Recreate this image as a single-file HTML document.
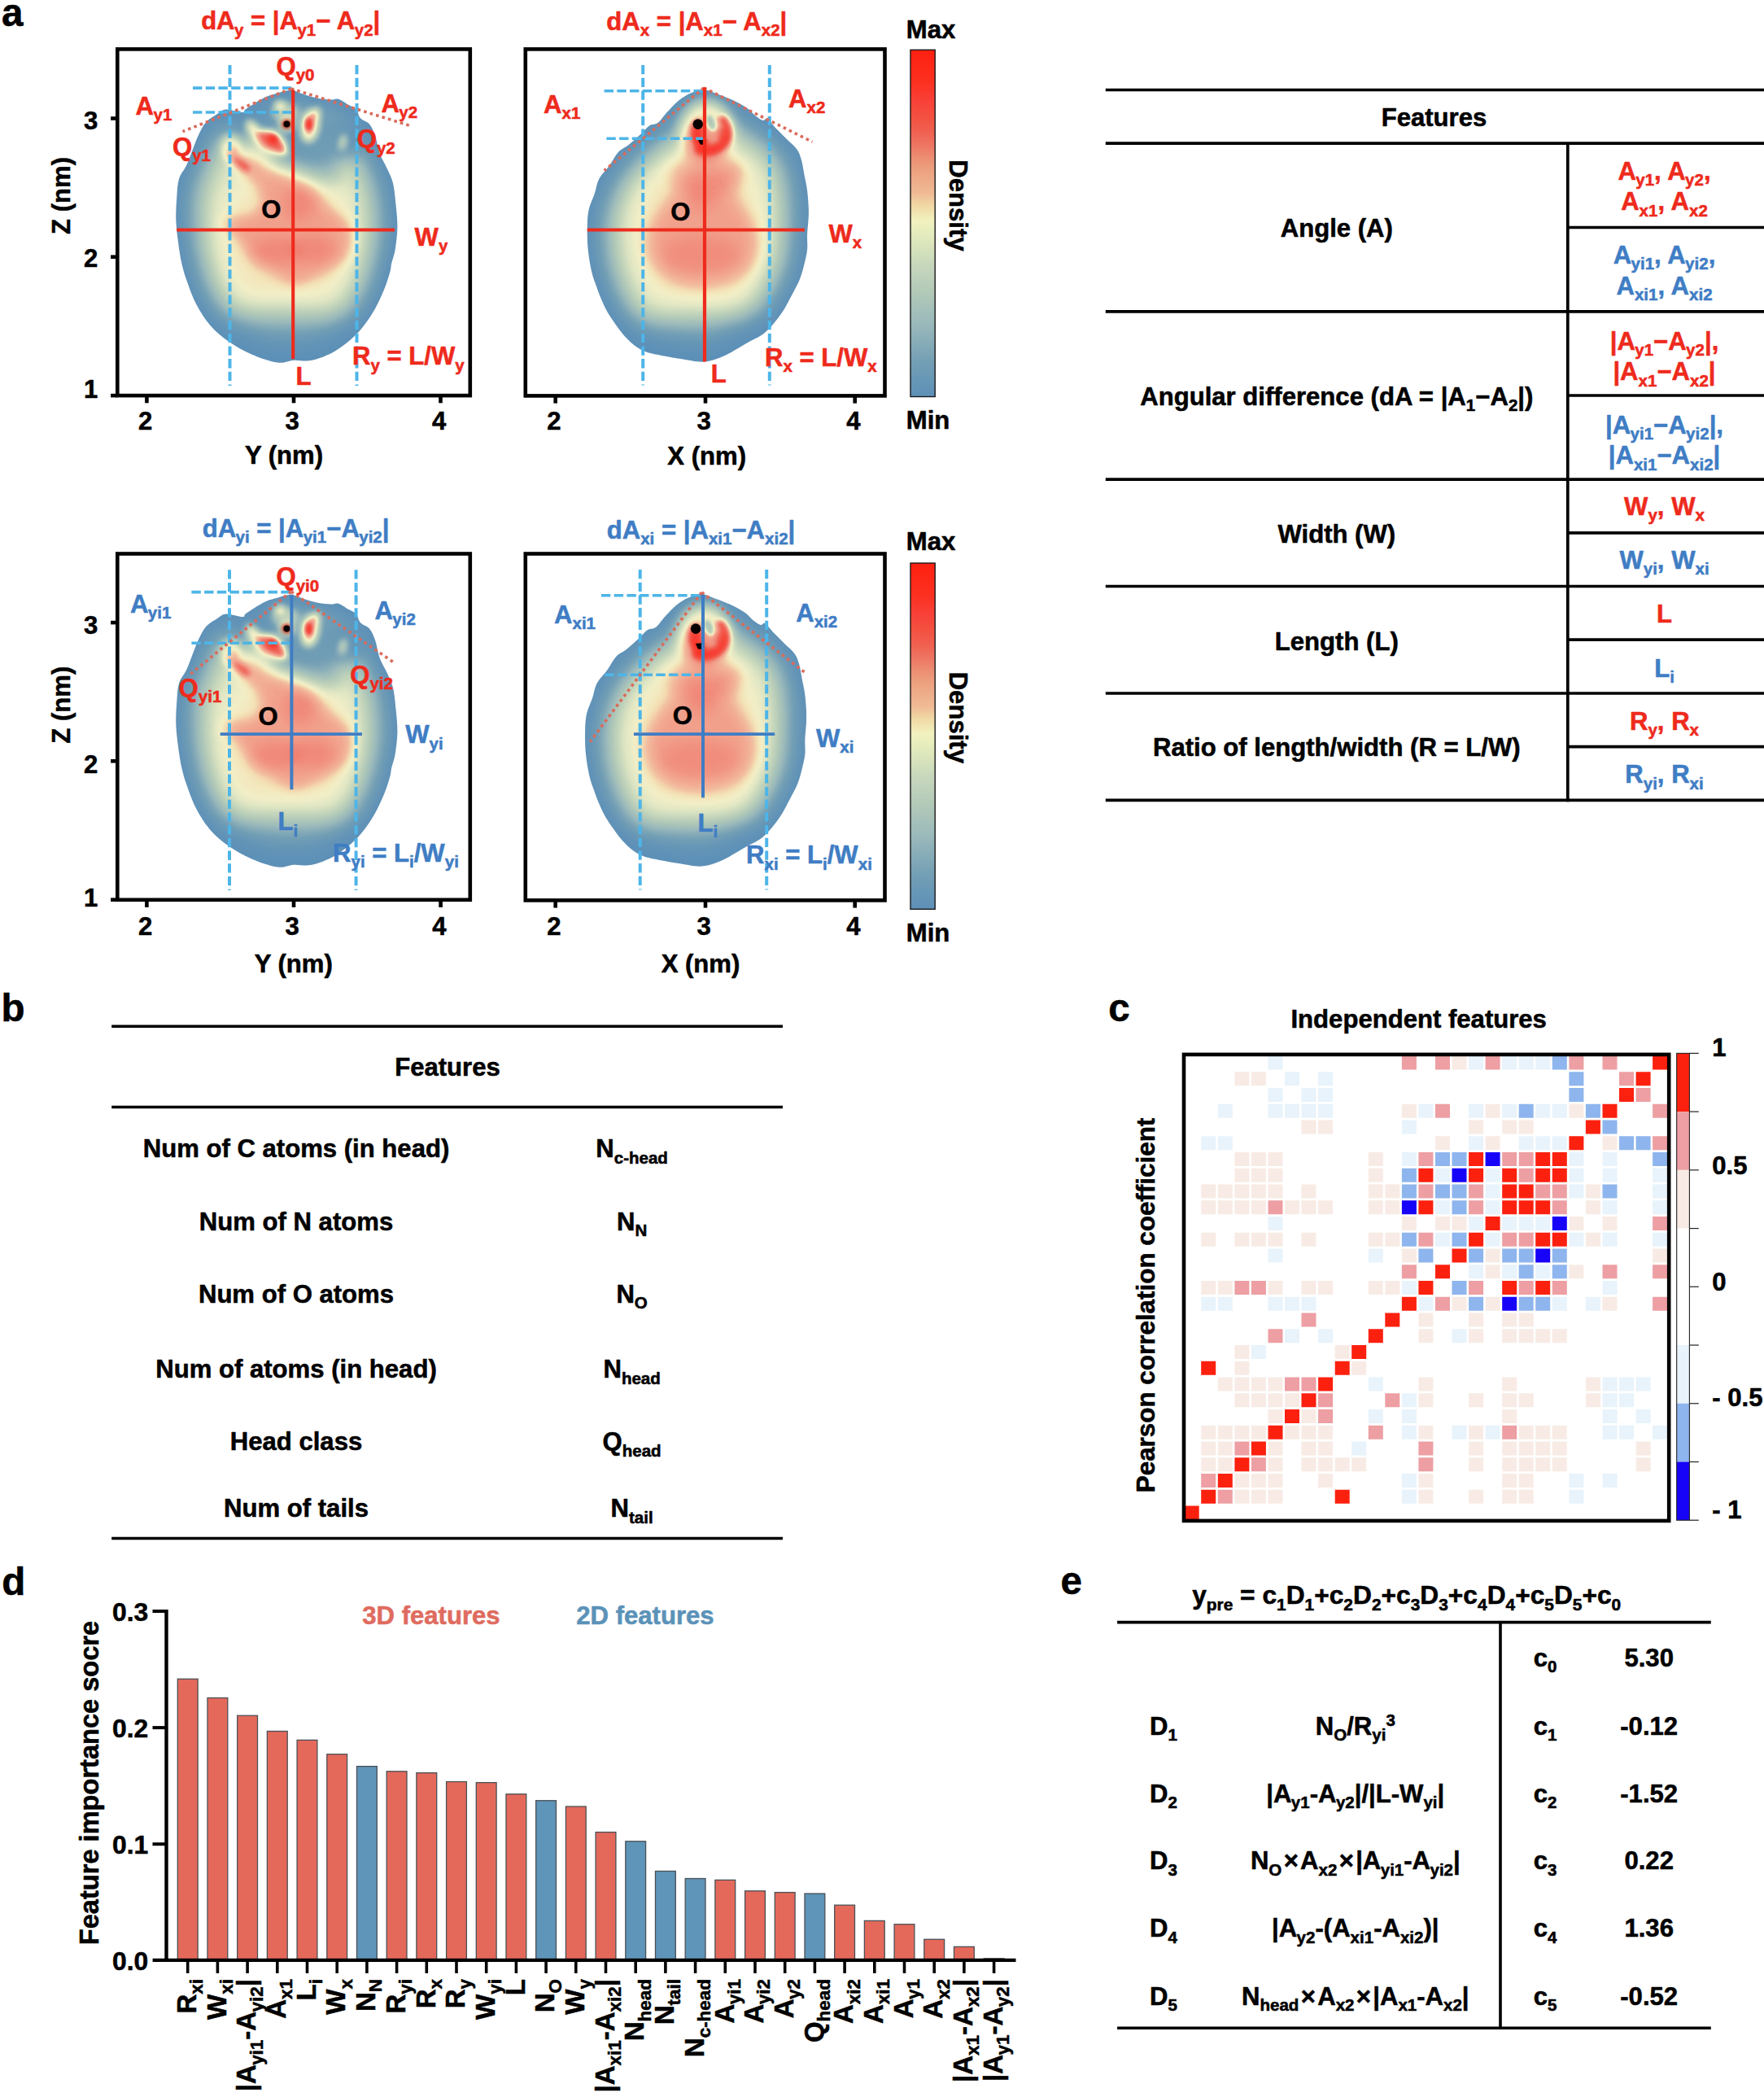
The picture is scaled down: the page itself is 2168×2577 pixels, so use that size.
<!DOCTYPE html>
<html><head><meta charset="utf-8"><title>Figure</title>
<style>html,body{margin:0;padding:0;background:#fff}svg{display:block}text{font-family:"Liberation Sans",sans-serif;font-weight:bold;stroke-width:.55px;stroke-linejoin:round}</style>
</head><body>
<svg width="2168" height="2577" viewBox="0 0 2168 2577">
<rect x="0" y="0" width="2168" height="2577" fill="#ffffff"/>
<defs>
<filter id="cmap" x="0" y="0" width="100%" height="100%" filterUnits="userSpaceOnUse" color-interpolation-filters="sRGB">
<feComponentTransfer>
<feFuncR type="table" tableValues="0.365 0.386 0.408 0.429 0.451 0.486 0.520 0.555 0.590 0.621 0.646 0.670 0.695 0.722 0.748 0.775 0.806 0.839 0.872 0.904 0.936 0.943 0.941 0.941 0.938 0.932 0.927 0.925 0.927 0.933 0.938 0.945 0.954 0.962 0.971 0.979 0.986 0.990 0.992 0.994 0.996"/>
<feFuncG type="table" tableValues="0.565 0.579 0.594 0.609 0.624 0.646 0.669 0.692 0.715 0.736 0.753 0.770 0.788 0.805 0.823 0.841 0.862 0.885 0.908 0.926 0.944 0.907 0.849 0.767 0.711 0.674 0.636 0.586 0.528 0.463 0.407 0.361 0.326 0.291 0.257 0.226 0.197 0.176 0.159 0.142 0.125"/>
<feFuncB type="table" tableValues="0.722 0.719 0.716 0.713 0.710 0.715 0.720 0.725 0.730 0.732 0.728 0.725 0.722 0.727 0.731 0.736 0.737 0.737 0.737 0.741 0.744 0.703 0.645 0.604 0.568 0.535 0.502 0.465 0.427 0.389 0.341 0.298 0.264 0.240 0.222 0.182 0.138 0.113 0.096 0.080 0.063"/>
</feComponentTransfer></filter>
<filter id="b2" x="-50%" y="-50%" width="200%" height="200%" color-interpolation-filters="sRGB"><feGaussianBlur stdDeviation="2"/></filter>
<filter id="b3" x="-50%" y="-50%" width="200%" height="200%" color-interpolation-filters="sRGB"><feGaussianBlur stdDeviation="3"/></filter>
<filter id="b4" x="-50%" y="-50%" width="200%" height="200%" color-interpolation-filters="sRGB"><feGaussianBlur stdDeviation="4"/></filter>
<filter id="b6" x="-50%" y="-50%" width="200%" height="200%" color-interpolation-filters="sRGB"><feGaussianBlur stdDeviation="6"/></filter>
<filter id="b8" x="-50%" y="-50%" width="200%" height="200%" color-interpolation-filters="sRGB"><feGaussianBlur stdDeviation="8"/></filter>
<filter id="b10" x="-50%" y="-50%" width="200%" height="200%" color-interpolation-filters="sRGB"><feGaussianBlur stdDeviation="10"/></filter>
<filter id="b14" x="-50%" y="-50%" width="200%" height="200%" color-interpolation-filters="sRGB"><feGaussianBlur stdDeviation="14"/></filter>
<filter id="b16" x="-50%" y="-50%" width="200%" height="200%" color-interpolation-filters="sRGB"><feGaussianBlur stdDeviation="16"/></filter>
<filter id="b18" x="-50%" y="-50%" width="200%" height="200%" color-interpolation-filters="sRGB"><feGaussianBlur stdDeviation="18"/></filter>
<filter id="b24" x="-50%" y="-50%" width="200%" height="200%" color-interpolation-filters="sRGB"><feGaussianBlur stdDeviation="24"/></filter>
<path id="blob1" d="M357.8 110.8C363.2 111.1 368.7 114.6 374.1 116.3C379.6 118.0 385.1 119.8 390.5 120.8C395.9 121.8 402.6 122.4 406.8 122.6C411.0 122.8 412.3 120.6 415.9 121.7C419.5 122.8 425.0 126.9 428.6 129.0C432.2 131.1 435.2 131.7 437.6 134.4C440.0 137.1 440.4 142.3 443.1 145.3C445.8 148.3 451.0 149.0 454.0 152.6C457.0 156.2 459.1 161.1 461.2 167.1C463.3 173.1 464.3 182.2 466.7 188.8C469.1 195.5 473.0 200.9 475.7 207.0C478.4 213.1 481.2 217.5 483.0 225.1C484.8 232.7 485.7 243.2 486.6 252.3C487.5 261.4 488.5 270.4 488.4 279.5C488.2 288.6 486.9 299.4 485.7 306.8C484.5 314.2 482.2 319.2 481.2 323.7C480.1 328.2 481.0 328.3 479.4 334.0C477.8 339.7 475.0 349.0 471.3 357.7C467.6 366.4 462.8 377.0 457.1 386.0C451.4 395.0 444.9 404.0 437.3 411.6C429.8 419.2 420.8 426.2 411.8 431.4C402.8 436.6 391.9 440.8 383.4 442.7C374.9 444.6 367.9 442.2 360.8 442.7C353.7 443.2 349.5 446.8 341.0 445.6C332.5 444.4 319.7 440.0 309.8 435.7C299.9 431.4 289.9 425.9 281.4 420.0C272.9 414.1 265.3 407.8 258.7 400.2C252.1 392.6 246.3 383.3 241.7 374.7C237.0 366.1 233.8 356.8 230.8 348.5C227.8 340.2 225.6 333.4 223.6 324.9C221.6 316.4 220.2 306.8 219.0 297.7C217.8 288.6 216.6 279.6 216.3 270.5C216.0 261.4 216.6 251.8 217.2 243.3C217.8 234.8 218.0 226.3 220.0 219.7C222.0 213.0 226.3 209.2 229.0 203.4C231.7 197.7 233.9 191.2 236.3 185.2C238.7 179.1 240.8 172.8 243.5 167.1C246.2 161.3 248.7 155.2 252.6 150.7C256.5 146.2 262.9 142.6 267.1 139.9C271.3 137.2 272.9 134.7 278.0 134.4C283.1 134.1 294.1 138.0 298.0 138.0C301.9 138.0 299.2 136.2 301.6 134.4C304.0 132.6 308.3 129.8 312.5 127.2C316.7 124.6 322.2 121.1 327.0 119.0C331.8 116.9 336.4 115.9 341.5 114.5C346.6 113.1 352.4 110.5 357.8 110.8Z"/>
<path id="blob2" d="M865.1 109.9C870.5 110.1 875.7 113.3 881.4 115.4C887.1 117.5 893.5 119.7 899.5 122.6C905.5 125.5 912.9 129.3 917.7 132.6C922.6 135.9 925.3 140.0 928.6 142.6C931.9 145.2 935.2 147.4 937.6 148.0C940.0 148.6 940.4 144.5 943.1 146.2C945.8 147.9 950.1 153.9 954.0 158.0C957.9 162.1 962.5 166.5 966.7 170.7C970.9 174.9 976.4 179.2 979.4 183.4C982.4 187.6 983.3 191.0 984.8 196.1C986.3 201.2 987.2 207.8 988.4 214.2C989.6 220.5 991.2 226.3 992.1 234.2C993.0 242.1 993.9 252.3 993.9 261.4C993.9 270.5 992.4 281.0 992.1 288.6C991.8 296.2 992.7 300.8 992.1 306.8C991.5 312.9 989.9 318.9 988.4 324.9C986.9 330.9 985.4 336.9 983.0 343.0C980.6 349.1 977.6 354.2 973.9 361.2C970.1 368.2 966.1 377.1 960.5 385.0C954.9 392.9 947.5 402.6 940.1 408.8C932.7 415.0 924.8 417.6 916.3 422.4C907.8 427.2 897.6 434.1 889.1 437.8C880.6 441.5 873.8 444.0 865.3 444.6C856.8 445.2 846.0 442.3 838.1 441.2C830.2 440.1 825.6 439.5 817.7 437.8C809.8 436.1 798.5 434.7 790.5 431.0C782.5 427.3 776.8 422.7 770.0 415.6C763.2 408.5 754.7 396.0 749.7 388.4C744.7 380.8 742.8 376.2 740.0 370.0C737.2 363.8 734.8 357.0 732.7 351.0C730.6 345.0 728.9 341.4 727.2 334.0C725.5 326.6 723.6 315.9 722.7 306.8C721.8 297.7 721.6 287.7 721.8 279.5C721.9 271.3 722.1 264.8 723.6 257.8C725.1 250.9 728.7 244.2 730.8 237.8C732.9 231.5 733.3 225.4 736.3 219.7C739.3 214.0 745.1 208.8 749.0 203.4C752.9 198.0 756.0 191.2 759.9 187.0C763.8 182.8 768.1 181.6 772.6 178.0C777.1 174.4 782.9 169.2 787.1 165.3C791.3 161.4 794.4 156.8 798.0 154.4C801.6 152.0 805.2 153.4 808.8 150.7C812.4 148.0 815.5 142.5 819.7 138.0C823.9 133.5 829.4 127.4 834.2 123.5C839.1 119.6 843.6 116.8 848.8 114.5C853.9 112.2 859.7 109.8 865.1 109.9Z"/>
<clipPath id="clip1"><use href="#blob1"/></clipPath>
<clipPath id="clip2"><use href="#blob2"/></clipPath>
<linearGradient id="cbar" x1="0" y1="0" x2="0" y2="1"><stop offset="0.000" stop-color="rgb(254,32,16)"/><stop offset="0.093" stop-color="rgb(252,48,32)"/><stop offset="0.146" stop-color="rgb(248,64,56)"/><stop offset="0.191" stop-color="rgb(244,80,64)"/><stop offset="0.236" stop-color="rgb(240,96,80)"/><stop offset="0.272" stop-color="rgb(238,116,98)"/><stop offset="0.308" stop-color="rgb(236,140,112)"/><stop offset="0.344" stop-color="rgb(236,160,126)"/><stop offset="0.415" stop-color="rgb(240,187,150)"/><stop offset="0.449" stop-color="rgb(240,216,164)"/><stop offset="0.493" stop-color="rgb(241,242,190)"/><stop offset="0.548" stop-color="rgb(223,232,188)"/><stop offset="0.616" stop-color="rgb(200,216,188)"/><stop offset="0.705" stop-color="rgb(176,200,184)"/><stop offset="0.784" stop-color="rgb(156,186,187)"/><stop offset="0.900" stop-color="rgb(115,159,181)"/><stop offset="1.000" stop-color="rgb(93,144,184)"/></linearGradient>
</defs>
<defs><filter id="cmapA" x="195" y="90" width="320" height="380" filterUnits="userSpaceOnUse" color-interpolation-filters="sRGB">
<feComponentTransfer>
<feFuncR type="table" tableValues="0.365 0.386 0.408 0.429 0.451 0.486 0.520 0.555 0.590 0.621 0.646 0.670 0.695 0.722 0.748 0.775 0.808 0.846 0.883 0.916 0.948 0.955 0.953 0.953 0.952 0.951 0.949 0.947 0.944 0.942 0.944 0.948 0.955 0.962 0.971 0.979 0.986 0.990 0.992 0.994 0.996"/>
<feFuncG type="table" tableValues="0.565 0.579 0.594 0.609 0.624 0.646 0.669 0.692 0.715 0.736 0.753 0.770 0.788 0.805 0.823 0.841 0.861 0.883 0.904 0.921 0.937 0.912 0.872 0.788 0.726 0.682 0.638 0.588 0.534 0.474 0.419 0.370 0.329 0.291 0.257 0.226 0.197 0.176 0.159 0.142 0.125"/>
<feFuncB type="table" tableValues="0.722 0.719 0.716 0.713 0.710 0.715 0.720 0.725 0.730 0.732 0.728 0.725 0.722 0.727 0.731 0.736 0.745 0.756 0.768 0.775 0.782 0.749 0.700 0.654 0.617 0.587 0.556 0.518 0.472 0.415 0.365 0.316 0.268 0.240 0.222 0.182 0.138 0.113 0.096 0.080 0.063"/>
</feComponentTransfer></filter></defs>
<defs><filter id="cmapB" x="700" y="90" width="320" height="380" filterUnits="userSpaceOnUse" color-interpolation-filters="sRGB">
<feComponentTransfer>
<feFuncR type="table" tableValues="0.365 0.386 0.408 0.429 0.451 0.486 0.520 0.555 0.590 0.621 0.646 0.670 0.695 0.722 0.748 0.775 0.808 0.846 0.883 0.916 0.948 0.955 0.953 0.953 0.952 0.951 0.949 0.947 0.944 0.942 0.944 0.948 0.955 0.962 0.971 0.979 0.986 0.990 0.992 0.994 0.996"/>
<feFuncG type="table" tableValues="0.565 0.579 0.594 0.609 0.624 0.646 0.669 0.692 0.715 0.736 0.753 0.770 0.788 0.805 0.823 0.841 0.861 0.883 0.904 0.921 0.937 0.912 0.872 0.788 0.726 0.682 0.638 0.588 0.534 0.474 0.419 0.370 0.329 0.291 0.257 0.226 0.197 0.176 0.159 0.142 0.125"/>
<feFuncB type="table" tableValues="0.722 0.719 0.716 0.713 0.710 0.715 0.720 0.725 0.730 0.732 0.728 0.725 0.722 0.727 0.731 0.736 0.745 0.756 0.768 0.775 0.782 0.749 0.700 0.654 0.617 0.587 0.556 0.518 0.472 0.415 0.365 0.316 0.268 0.240 0.222 0.182 0.138 0.113 0.096 0.080 0.063"/>
</feComponentTransfer></filter></defs>
<g transform="translate(0 0)">
<g clip-path="url(#clip1)"><g filter="url(#cmapA)">
<rect x="200" y="95" width="310" height="365" fill="#000"/>
<g filter="url(#b16)"><use href="#blob1" fill="#fff" fill-opacity="0.45"/><use href="#blob1" fill="none" stroke="#000" stroke-width="52"/></g>
<g filter="url(#b18)"><ellipse cx="352" cy="295" rx="82" ry="92" fill="#fff" fill-opacity="0.16"/></g>
<g filter="url(#b18)"><ellipse cx="352" cy="455" rx="135" ry="68" fill="#000" fill-opacity="0.75"/></g>
<g filter="url(#b10)" fill="#000"><ellipse cx="395" cy="172" rx="60" ry="30" fill-opacity="0.8"/><ellipse cx="322" cy="150" rx="42" ry="20" fill-opacity="0.75"/><ellipse cx="382" cy="203" rx="42" ry="13" fill-opacity="0.55" transform="rotate(22 382 203)"/><ellipse cx="345" cy="195" rx="14" ry="10" fill-opacity="0.45"/></g>
<g filter="url(#b4)" fill="#fff"><path d="M304 146 L312 150 L322 160 L338 160 L350 172 L354 190 L340 190 L322 182 L310 170 L302 156 Z" fill-opacity="0.5"/><ellipse cx="381" cy="155" rx="11" ry="20" fill-opacity="0.5" transform="rotate(8 381 155)"/><ellipse cx="388" cy="140" rx="5" ry="9" fill-opacity="0.4" transform="rotate(20 388 140)"/><ellipse cx="344" cy="129" rx="7" ry="5" fill-opacity="0.5"/><ellipse cx="350" cy="138" rx="16" ry="11" fill-opacity="0.25"/><ellipse cx="421.5" cy="174.5" rx="3.5" ry="10" fill-opacity="0.45" transform="rotate(12 421.5 174.5)"/><ellipse cx="352.4" cy="152.6" rx="9" ry="9" fill-opacity="0.45"/><ellipse cx="283" cy="182" rx="12" ry="16" fill-opacity="0.3"/></g>
<g filter="url(#b8)"><path d="M285.3 187.0L301.6 188.8L317.9 196.1L334.2 205.2L348.8 212.4L357.8 217.9L374.1 223.3L385.0 230.6L395.9 243.3L403.2 254.1L414.1 261.4L426.8 270.5L434.0 283.2L434.0 297.7L430.4 312.2L423.1 321.3L408.6 330.3L395.9 337.6L381.4 341.2L372.3 346.7L363.3 348.5L354.2 346.7L345.1 341.2L334.2 334.0L323.4 330.3L312.5 323.1L303.4 312.2L296.1 297.7L287.1 286.8L276.2 279.5L270.7 274.1L276.2 268.7L290.7 266.8L308.8 265.0L319.7 257.8L323.4 246.9L319.7 236.0L312.5 225.1L301.6 214.2L290.7 203.4L285.3 194.3Z" fill="#fff" fill-opacity="0.26"/></g>
<g filter="url(#b8)" fill="#fff" fill-opacity="0.12"><ellipse cx="300" cy="205" rx="22" ry="9" transform="rotate(38 300 205)"/><ellipse cx="340" cy="308" rx="30" ry="18"/><ellipse cx="385" cy="306" rx="30" ry="18"/><ellipse cx="368" cy="250" rx="20" ry="22"/></g>
<g filter="url(#b3)" fill="#fff"><path d="M316 163 L328 161 L340 166 L349 178 L352 189 L342 187 L328 179 L320 171 Z" fill-opacity="0.42"/><ellipse cx="336" cy="170.5" rx="6" ry="4.5" fill-opacity="0.75" transform="rotate(40 336 170.5)"/><ellipse cx="379.6" cy="153" rx="4.5" ry="9" fill-opacity="0.85"/><ellipse cx="297" cy="202" rx="13" ry="5.5" fill-opacity="0.42" transform="rotate(38 297 202)"/></g>
</g></g>
<circle cx="352.4" cy="152.6" r="6" fill="#c0281c" filter="url(#b2)"/>
<circle cx="352.4" cy="152.6" r="4" fill="#0a0000"/>
</g>
<line x1="282.50" y1="80.00" x2="282.50" y2="474.00" stroke="#4db5e8" stroke-width="4" stroke-dasharray="11.3 4.4"/>
<line x1="438.50" y1="80.00" x2="438.50" y2="474.00" stroke="#4db5e8" stroke-width="4" stroke-dasharray="11.3 4.4"/>
<line x1="237.00" y1="108.10" x2="358.00" y2="108.10" stroke="#4db5e8" stroke-width="3.6" stroke-dasharray="11.4 4.3"/>
<line x1="237.00" y1="138.00" x2="358.00" y2="138.00" stroke="#4db5e8" stroke-width="3.6" stroke-dasharray="11.4 4.3"/>
<line x1="357.80" y1="109.00" x2="224.50" y2="161.60" stroke="#d96b5b" stroke-width="3.6" stroke-dasharray="3.6 4.2"/>
<line x1="357.80" y1="109.00" x2="506.60" y2="155.30" stroke="#d96b5b" stroke-width="3.6" stroke-dasharray="3.6 4.2"/>
<line x1="360.20" y1="110.50" x2="360.20" y2="441.30" stroke="#ee2a1c" stroke-width="4.1" />
<line x1="217.20" y1="282.50" x2="484.90" y2="282.50" stroke="#ee2a1c" stroke-width="4.2" />
<line x1="180.40" y1="486.10" x2="180.40" y2="495.30" stroke="#000" stroke-width="4.6" />
<line x1="361.00" y1="486.10" x2="361.00" y2="495.30" stroke="#000" stroke-width="4.6" />
<line x1="541.50" y1="486.10" x2="541.50" y2="495.30" stroke="#000" stroke-width="4.6" />
<line x1="136.10" y1="145.50" x2="144.30" y2="145.50" stroke="#000" stroke-width="4.6" />
<line x1="136.10" y1="315.70" x2="144.30" y2="315.70" stroke="#000" stroke-width="4.6" />
<line x1="136.10" y1="486.10" x2="144.30" y2="486.10" stroke="#000" stroke-width="4.6" />
<rect x="144.30" y="60.40" width="433.50" height="425.70" fill="none" stroke="#000" stroke-width="4.6" />
<text x="178.60" y="527.80" font-size="31.10" text-anchor="middle" fill="#000" stroke="#000" >2</text>
<text x="359.20" y="527.80" font-size="31.10" text-anchor="middle" fill="#000" stroke="#000" >3</text>
<text x="539.70" y="527.80" font-size="31.10" text-anchor="middle" fill="#000" stroke="#000" >4</text>
<text x="120.30" y="158.70" font-size="31.10" text-anchor="end" fill="#000" stroke="#000" >3</text>
<text x="120.30" y="327.80" font-size="31.10" text-anchor="end" fill="#000" stroke="#000" >2</text>
<text x="120.30" y="489.00" font-size="31.10" text-anchor="end" fill="#000" stroke="#000" >1</text>
<text x="349.00" y="570.30" font-size="31.10" text-anchor="middle" fill="#000" stroke="#000" >Y (nm)</text>
<text x="0" y="0" transform="translate(86.20 240.50) rotate(-90)" font-size="31.10" text-anchor="middle" fill="#000" stroke="#000" >Z (nm)</text>
<text x="357.20" y="36.30" font-size="31.10" text-anchor="middle" fill="#ee2a1c" stroke="#ee2a1c" >dA<tspan font-size="20.53" dy="7.31" dx="-0.6">y</tspan><tspan dy="-7.31"> = |A</tspan><tspan font-size="20.53" dy="7.31" dx="-0.6">y1</tspan><tspan dy="-7.31">− A</tspan><tspan font-size="20.53" dy="7.31" dx="-0.6">y2</tspan><tspan dy="-7.31">|</tspan></text>
<text x="339.50" y="92.00" font-size="31.10" text-anchor="start" fill="#ee2a1c" stroke="#ee2a1c" >Q<tspan font-size="20.53" dy="7.31">y0</tspan></text>
<text x="166.60" y="140.90" font-size="31.10" text-anchor="start" fill="#ee2a1c" stroke="#ee2a1c" >A<tspan font-size="20.53" dy="7.31" dx="-0.6">y1</tspan></text>
<text x="468.50" y="137.50" font-size="31.10" text-anchor="start" fill="#ee2a1c" stroke="#ee2a1c" >A<tspan font-size="20.53" dy="7.31" dx="-0.6">y2</tspan></text>
<text x="212.00" y="190.50" font-size="31.10" text-anchor="start" fill="#ee2a1c" stroke="#ee2a1c" >Q<tspan font-size="20.53" dy="7.31">y1</tspan></text>
<text x="438.70" y="181.40" font-size="31.10" text-anchor="start" fill="#ee2a1c" stroke="#ee2a1c" >Q<tspan font-size="20.53" dy="7.31">y2</tspan></text>
<text x="509.60" y="301.90" font-size="31.10" text-anchor="start" fill="#ee2a1c" stroke="#ee2a1c" >W<tspan font-size="20.53" dy="7.31">y</tspan></text>
<text x="433.00" y="448.40" font-size="31.10" text-anchor="start" fill="#ee2a1c" stroke="#ee2a1c" >R<tspan font-size="20.53" dy="7.31">y</tspan><tspan dy="-7.31"> = L/W</tspan><tspan font-size="20.53" dy="7.31">y</tspan></text>
<text x="363.60" y="472.50" font-size="31.10" text-anchor="start" fill="#ee2a1c" stroke="#ee2a1c" >L</text>
<text x="333.30" y="268.00" font-size="31.10" text-anchor="middle" fill="#000" stroke="#000" >O</text>
<g transform="translate(0 0)">
<g clip-path="url(#clip2)"><g filter="url(#cmapB)">
<rect x="705" y="95" width="305" height="365" fill="#000"/>
<g filter="url(#b16)"><use href="#blob2" fill="#fff" fill-opacity="0.45"/><use href="#blob2" fill="none" stroke="#000" stroke-width="54"/></g>
<g filter="url(#b18)"><ellipse cx="860" cy="285" rx="82" ry="105" fill="#fff" fill-opacity="0.16"/></g>
<g filter="url(#b18)"><ellipse cx="860" cy="458" rx="135" ry="66" fill="#000" fill-opacity="0.72"/></g>
<g filter="url(#b8)" fill="#fff"><ellipse cx="868" cy="160" rx="32" ry="38" fill-opacity="0.42"/><ellipse cx="868" cy="212" rx="50" ry="28" fill-opacity="0.1"/></g>
<g filter="url(#b10)"><path d="M842.0 206.0L872.0 202.0L903.0 202.0L914.0 210.0L902.0 222.0L905.0 246.0L922.0 268.0L932.0 292.0L930.0 318.0L916.0 338.0L892.0 348.0L862.0 352.0L832.0 348.0L808.0 334.0L796.0 312.0L796.0 288.0L806.0 266.0L824.0 246.0L836.0 222.0Z" fill="#fff" fill-opacity="0.26"/></g>
<g filter="url(#b8)" fill="#fff" fill-opacity="0.1"><ellipse cx="862" cy="312" rx="48" ry="24"/><ellipse cx="864" cy="245" rx="18" ry="16"/></g>
<g filter="url(#b3)" fill="none" stroke="#fff" stroke-linecap="round"><path d="M889 147 C899 158 897 174 884 181 C876 185 868 186 860 184" stroke-width="11" stroke-opacity="0.6"/></g>
<g filter="url(#b3)" fill="#fff"><ellipse cx="857" cy="162" rx="8" ry="15" fill-opacity="0.62"/><ellipse cx="862" cy="177" rx="8" ry="7" fill-opacity="0.5"/><ellipse cx="888" cy="165" rx="6" ry="10" fill-opacity="0.35"/></g>
<g filter="url(#b2)" fill="#000"><ellipse cx="874" cy="151" rx="5" ry="10" fill-opacity="0.5" transform="rotate(-20 874 151)"/></g>
</g></g>
<circle cx="857.8" cy="152.6" r="6.3" fill="#080000"/>

<path d="M857.5 171 L866.5 170 L868.5 173 L865.5 178 L860.5 177.5 Z" fill="#100000"/>
</g>
<line x1="790.20" y1="80.00" x2="790.20" y2="473.50" stroke="#4db5e8" stroke-width="4" stroke-dasharray="11.3 4.4"/>
<line x1="945.80" y1="80.00" x2="945.80" y2="473.50" stroke="#4db5e8" stroke-width="4" stroke-dasharray="11.3 4.4"/>
<line x1="742.60" y1="111.70" x2="864.50" y2="111.70" stroke="#4db5e8" stroke-width="3.6" stroke-dasharray="11.4 4.3"/>
<line x1="745.40" y1="170.20" x2="864.50" y2="170.20" stroke="#4db5e8" stroke-width="3.6" stroke-dasharray="11.4 4.3"/>
<line x1="865.00" y1="108.00" x2="742.60" y2="209.70" stroke="#d96b5b" stroke-width="3.6" stroke-dasharray="3.6 4.2"/>
<line x1="865.00" y1="108.00" x2="998.40" y2="174.30" stroke="#d96b5b" stroke-width="3.6" stroke-dasharray="3.6 4.2"/>
<line x1="866.00" y1="107.50" x2="866.00" y2="444.60" stroke="#ee2a1c" stroke-width="4.2" />
<line x1="721.80" y1="282.50" x2="988.80" y2="282.50" stroke="#ee2a1c" stroke-width="4.2" />
<line x1="682.70" y1="486.40" x2="682.70" y2="495.60" stroke="#000" stroke-width="4.6" />
<line x1="867.00" y1="486.40" x2="867.00" y2="495.60" stroke="#000" stroke-width="4.6" />
<line x1="1050.70" y1="486.40" x2="1050.70" y2="495.60" stroke="#000" stroke-width="4.6" />
<rect x="645.80" y="60.40" width="441.70" height="426.00" fill="none" stroke="#000" stroke-width="4.6" />
<text x="680.90" y="528.10" font-size="31.10" text-anchor="middle" fill="#000" stroke="#000" >2</text>
<text x="865.20" y="528.10" font-size="31.10" text-anchor="middle" fill="#000" stroke="#000" >3</text>
<text x="1048.90" y="528.10" font-size="31.10" text-anchor="middle" fill="#000" stroke="#000" >4</text>
<text x="868.70" y="570.60" font-size="31.10" text-anchor="middle" fill="#000" stroke="#000" >X (nm)</text>
<text x="856.30" y="36.70" font-size="31.10" text-anchor="middle" fill="#ee2a1c" stroke="#ee2a1c" >dA<tspan font-size="20.53" dy="7.31">x</tspan><tspan dy="-7.31"> = |A</tspan><tspan font-size="20.53" dy="7.31">x1</tspan><tspan dy="-7.31">− A</tspan><tspan font-size="20.53" dy="7.31">x2</tspan><tspan dy="-7.31">|</tspan></text>
<text x="668.00" y="138.80" font-size="31.10" text-anchor="start" fill="#ee2a1c" stroke="#ee2a1c" >A<tspan font-size="20.53" dy="7.31">x1</tspan></text>
<text x="969.00" y="131.60" font-size="31.10" text-anchor="start" fill="#ee2a1c" stroke="#ee2a1c" >A<tspan font-size="20.53" dy="7.31">x2</tspan></text>
<text x="1018.40" y="297.60" font-size="31.10" text-anchor="start" fill="#ee2a1c" stroke="#ee2a1c" >W<tspan font-size="20.53" dy="7.31">x</tspan></text>
<text x="940.00" y="449.70" font-size="31.10" text-anchor="start" fill="#ee2a1c" stroke="#ee2a1c" >R<tspan font-size="20.53" dy="7.31">x</tspan><tspan dy="-7.31"> = L/W</tspan><tspan font-size="20.53" dy="7.31">x</tspan></text>
<text x="873.80" y="470.00" font-size="31.10" text-anchor="start" fill="#ee2a1c" stroke="#ee2a1c" >L</text>
<text x="836.40" y="270.50" font-size="31.10" text-anchor="middle" fill="#000" stroke="#000" >O</text>
<g transform="translate(0 620)">
<g clip-path="url(#clip1)"><g filter="url(#cmapA)">
<rect x="200" y="95" width="310" height="365" fill="#000"/>
<g filter="url(#b16)"><use href="#blob1" fill="#fff" fill-opacity="0.45"/><use href="#blob1" fill="none" stroke="#000" stroke-width="52"/></g>
<g filter="url(#b18)"><ellipse cx="352" cy="295" rx="82" ry="92" fill="#fff" fill-opacity="0.16"/></g>
<g filter="url(#b18)"><ellipse cx="352" cy="455" rx="135" ry="68" fill="#000" fill-opacity="0.75"/></g>
<g filter="url(#b10)" fill="#000"><ellipse cx="395" cy="172" rx="60" ry="30" fill-opacity="0.8"/><ellipse cx="322" cy="150" rx="42" ry="20" fill-opacity="0.75"/><ellipse cx="382" cy="203" rx="42" ry="13" fill-opacity="0.55" transform="rotate(22 382 203)"/><ellipse cx="345" cy="195" rx="14" ry="10" fill-opacity="0.45"/></g>
<g filter="url(#b4)" fill="#fff"><path d="M304 146 L312 150 L322 160 L338 160 L350 172 L354 190 L340 190 L322 182 L310 170 L302 156 Z" fill-opacity="0.5"/><ellipse cx="381" cy="155" rx="11" ry="20" fill-opacity="0.5" transform="rotate(8 381 155)"/><ellipse cx="388" cy="140" rx="5" ry="9" fill-opacity="0.4" transform="rotate(20 388 140)"/><ellipse cx="344" cy="129" rx="7" ry="5" fill-opacity="0.5"/><ellipse cx="350" cy="138" rx="16" ry="11" fill-opacity="0.25"/><ellipse cx="421.5" cy="174.5" rx="3.5" ry="10" fill-opacity="0.45" transform="rotate(12 421.5 174.5)"/><ellipse cx="352.4" cy="152.6" rx="9" ry="9" fill-opacity="0.45"/><ellipse cx="283" cy="182" rx="12" ry="16" fill-opacity="0.3"/></g>
<g filter="url(#b8)"><path d="M285.3 187.0L301.6 188.8L317.9 196.1L334.2 205.2L348.8 212.4L357.8 217.9L374.1 223.3L385.0 230.6L395.9 243.3L403.2 254.1L414.1 261.4L426.8 270.5L434.0 283.2L434.0 297.7L430.4 312.2L423.1 321.3L408.6 330.3L395.9 337.6L381.4 341.2L372.3 346.7L363.3 348.5L354.2 346.7L345.1 341.2L334.2 334.0L323.4 330.3L312.5 323.1L303.4 312.2L296.1 297.7L287.1 286.8L276.2 279.5L270.7 274.1L276.2 268.7L290.7 266.8L308.8 265.0L319.7 257.8L323.4 246.9L319.7 236.0L312.5 225.1L301.6 214.2L290.7 203.4L285.3 194.3Z" fill="#fff" fill-opacity="0.26"/></g>
<g filter="url(#b8)" fill="#fff" fill-opacity="0.12"><ellipse cx="300" cy="205" rx="22" ry="9" transform="rotate(38 300 205)"/><ellipse cx="340" cy="308" rx="30" ry="18"/><ellipse cx="385" cy="306" rx="30" ry="18"/><ellipse cx="368" cy="250" rx="20" ry="22"/></g>
<g filter="url(#b3)" fill="#fff"><path d="M316 163 L328 161 L340 166 L349 178 L352 189 L342 187 L328 179 L320 171 Z" fill-opacity="0.42"/><ellipse cx="336" cy="170.5" rx="6" ry="4.5" fill-opacity="0.75" transform="rotate(40 336 170.5)"/><ellipse cx="379.6" cy="153" rx="4.5" ry="9" fill-opacity="0.85"/><ellipse cx="297" cy="202" rx="13" ry="5.5" fill-opacity="0.42" transform="rotate(38 297 202)"/></g>
</g></g>
<circle cx="352.4" cy="152.6" r="6" fill="#c0281c" filter="url(#b2)"/>
<circle cx="352.4" cy="152.6" r="4" fill="#0a0000"/>
</g>
<line x1="282.00" y1="700.20" x2="282.00" y2="1094.00" stroke="#4db5e8" stroke-width="4" stroke-dasharray="11.3 4.4"/>
<line x1="437.60" y1="700.20" x2="437.60" y2="1094.00" stroke="#4db5e8" stroke-width="4" stroke-dasharray="11.3 4.4"/>
<line x1="235.40" y1="727.60" x2="356.50" y2="727.60" stroke="#4db5e8" stroke-width="3.6" stroke-dasharray="11.4 4.3"/>
<line x1="235.40" y1="790.20" x2="356.50" y2="790.20" stroke="#4db5e8" stroke-width="3.6" stroke-dasharray="11.4 4.3"/>
<line x1="357.80" y1="727.00" x2="233.60" y2="828.80" stroke="#d96b5b" stroke-width="3.6" stroke-dasharray="3.6 4.2"/>
<line x1="357.80" y1="727.00" x2="483.00" y2="813.40" stroke="#d96b5b" stroke-width="3.6" stroke-dasharray="3.6 4.2"/>
<line x1="358.40" y1="730.80" x2="358.40" y2="970.30" stroke="#3f7dc4" stroke-width="4" />
<line x1="270.70" y1="902.20" x2="445.00" y2="902.20" stroke="#3f7dc4" stroke-width="3.7" />
<line x1="180.40" y1="1105.80" x2="180.40" y2="1115.00" stroke="#000" stroke-width="4.6" />
<line x1="361.00" y1="1105.80" x2="361.00" y2="1115.00" stroke="#000" stroke-width="4.6" />
<line x1="541.60" y1="1105.80" x2="541.60" y2="1115.00" stroke="#000" stroke-width="4.6" />
<line x1="136.10" y1="765.10" x2="144.30" y2="765.10" stroke="#000" stroke-width="4.6" />
<line x1="136.10" y1="935.30" x2="144.30" y2="935.30" stroke="#000" stroke-width="4.6" />
<line x1="136.10" y1="1105.70" x2="144.30" y2="1105.70" stroke="#000" stroke-width="4.6" />
<rect x="144.30" y="680.50" width="433.50" height="425.30" fill="none" stroke="#000" stroke-width="4.6" />
<text x="178.60" y="1148.70" font-size="31.10" text-anchor="middle" fill="#000" stroke="#000" >2</text>
<text x="359.20" y="1148.70" font-size="31.10" text-anchor="middle" fill="#000" stroke="#000" >3</text>
<text x="539.80" y="1148.70" font-size="31.10" text-anchor="middle" fill="#000" stroke="#000" >4</text>
<text x="120.30" y="778.80" font-size="31.10" text-anchor="end" fill="#000" stroke="#000" >3</text>
<text x="120.30" y="949.60" font-size="31.10" text-anchor="end" fill="#000" stroke="#000" >2</text>
<text x="120.30" y="1113.50" font-size="31.10" text-anchor="end" fill="#000" stroke="#000" >1</text>
<text x="360.80" y="1195.00" font-size="31.10" text-anchor="middle" fill="#000" stroke="#000" >Y (nm)</text>
<text x="0" y="0" transform="translate(86.20 866.20) rotate(-90)" font-size="31.10" text-anchor="middle" fill="#000" stroke="#000" >Z (nm)</text>
<text x="363.60" y="659.70" font-size="31.10" text-anchor="middle" fill="#3f7dc4" stroke="#3f7dc4" >dA<tspan font-size="20.53" dy="7.31" dx="-0.6">yi</tspan><tspan dy="-7.31"> = |A</tspan><tspan font-size="20.53" dy="7.31" dx="-0.6">yi1</tspan><tspan dy="-7.31">−A</tspan><tspan font-size="20.53" dy="7.31" dx="-0.6">yi2</tspan><tspan dy="-7.31">|</tspan></text>
<text x="339.50" y="719.20" font-size="31.10" text-anchor="start" fill="#ee2a1c" stroke="#ee2a1c" >Q<tspan font-size="20.53" dy="7.31">yi0</tspan></text>
<text x="160.00" y="752.70" font-size="31.10" text-anchor="start" fill="#3f7dc4" stroke="#3f7dc4" >A<tspan font-size="20.53" dy="7.31" dx="-0.6">yi1</tspan></text>
<text x="460.50" y="760.90" font-size="31.10" text-anchor="start" fill="#3f7dc4" stroke="#3f7dc4" >A<tspan font-size="20.53" dy="7.31" dx="-0.6">yi2</tspan></text>
<text x="219.60" y="855.80" font-size="31.10" text-anchor="start" fill="#ee2a1c" stroke="#ee2a1c" >Q<tspan font-size="20.53" dy="7.31">yi1</tspan></text>
<text x="430.20" y="839.70" font-size="31.10" text-anchor="start" fill="#ee2a1c" stroke="#ee2a1c" >Q<tspan font-size="20.53" dy="7.31">yi2</tspan></text>
<text x="498.20" y="913.40" font-size="31.10" text-anchor="start" fill="#3f7dc4" stroke="#3f7dc4" >W<tspan font-size="20.53" dy="7.31">yi</tspan></text>
<text x="341.50" y="1020.30" font-size="31.10" text-anchor="start" fill="#3f7dc4" stroke="#3f7dc4" >L<tspan font-size="20.53" dy="7.31">i</tspan></text>
<text x="409.00" y="1059.10" font-size="31.10" text-anchor="start" fill="#3f7dc4" stroke="#3f7dc4" >R<tspan font-size="20.53" dy="7.31">yi</tspan><tspan dy="-7.31"> = L</tspan><tspan font-size="20.53" dy="7.31">i</tspan><tspan dy="-7.31">/W</tspan><tspan font-size="20.53" dy="7.31">yi</tspan></text>
<text x="329.70" y="890.60" font-size="31.10" text-anchor="middle" fill="#000" stroke="#000" >O</text>
<g transform="translate(-2.7 620)">
<g clip-path="url(#clip2)"><g filter="url(#cmapB)">
<rect x="705" y="95" width="305" height="365" fill="#000"/>
<g filter="url(#b16)"><use href="#blob2" fill="#fff" fill-opacity="0.45"/><use href="#blob2" fill="none" stroke="#000" stroke-width="54"/></g>
<g filter="url(#b18)"><ellipse cx="860" cy="285" rx="82" ry="105" fill="#fff" fill-opacity="0.16"/></g>
<g filter="url(#b18)"><ellipse cx="860" cy="458" rx="135" ry="66" fill="#000" fill-opacity="0.72"/></g>
<g filter="url(#b8)" fill="#fff"><ellipse cx="868" cy="160" rx="32" ry="38" fill-opacity="0.42"/><ellipse cx="868" cy="212" rx="50" ry="28" fill-opacity="0.1"/></g>
<g filter="url(#b10)"><path d="M842.0 206.0L872.0 202.0L903.0 202.0L914.0 210.0L902.0 222.0L905.0 246.0L922.0 268.0L932.0 292.0L930.0 318.0L916.0 338.0L892.0 348.0L862.0 352.0L832.0 348.0L808.0 334.0L796.0 312.0L796.0 288.0L806.0 266.0L824.0 246.0L836.0 222.0Z" fill="#fff" fill-opacity="0.26"/></g>
<g filter="url(#b8)" fill="#fff" fill-opacity="0.1"><ellipse cx="862" cy="312" rx="48" ry="24"/><ellipse cx="864" cy="245" rx="18" ry="16"/></g>
<g filter="url(#b3)" fill="none" stroke="#fff" stroke-linecap="round"><path d="M889 147 C899 158 897 174 884 181 C876 185 868 186 860 184" stroke-width="11" stroke-opacity="0.6"/></g>
<g filter="url(#b3)" fill="#fff"><ellipse cx="857" cy="162" rx="8" ry="15" fill-opacity="0.62"/><ellipse cx="862" cy="177" rx="8" ry="7" fill-opacity="0.5"/><ellipse cx="888" cy="165" rx="6" ry="10" fill-opacity="0.35"/></g>
<g filter="url(#b2)" fill="#000"><ellipse cx="874" cy="151" rx="5" ry="10" fill-opacity="0.5" transform="rotate(-20 874 151)"/></g>
</g></g>
<circle cx="857.8" cy="152.6" r="6.3" fill="#080000"/>

<path d="M857.5 171 L866.5 170 L868.5 173 L865.5 178 L860.5 177.5 Z" fill="#100000"/>
</g>
<line x1="786.70" y1="700.00" x2="786.70" y2="1093.50" stroke="#4db5e8" stroke-width="4" stroke-dasharray="11.3 4.4"/>
<line x1="942.20" y1="700.00" x2="942.20" y2="1093.50" stroke="#4db5e8" stroke-width="4" stroke-dasharray="11.3 4.4"/>
<line x1="739.00" y1="731.70" x2="862.50" y2="731.70" stroke="#4db5e8" stroke-width="3.6" stroke-dasharray="11.4 4.3"/>
<line x1="743.50" y1="829.30" x2="862.50" y2="829.30" stroke="#4db5e8" stroke-width="3.6" stroke-dasharray="11.4 4.3"/>
<line x1="862.40" y1="728.00" x2="725.40" y2="911.30" stroke="#d96b5b" stroke-width="3.6" stroke-dasharray="3.6 4.2"/>
<line x1="862.40" y1="728.00" x2="991.20" y2="827.90" stroke="#d96b5b" stroke-width="3.6" stroke-dasharray="3.6 4.2"/>
<line x1="864.00" y1="730.80" x2="864.00" y2="980.30" stroke="#3f7dc4" stroke-width="4" />
<line x1="778.90" y1="902.20" x2="952.20" y2="902.20" stroke="#3f7dc4" stroke-width="3.7" />
<line x1="682.70" y1="1106.40" x2="682.70" y2="1115.60" stroke="#000" stroke-width="4.6" />
<line x1="867.00" y1="1106.40" x2="867.00" y2="1115.60" stroke="#000" stroke-width="4.6" />
<line x1="1050.70" y1="1106.40" x2="1050.70" y2="1115.60" stroke="#000" stroke-width="4.6" />
<rect x="645.80" y="680.50" width="441.70" height="425.90" fill="none" stroke="#000" stroke-width="4.6" />
<text x="680.90" y="1148.70" font-size="31.10" text-anchor="middle" fill="#000" stroke="#000" >2</text>
<text x="865.20" y="1148.70" font-size="31.10" text-anchor="middle" fill="#000" stroke="#000" >3</text>
<text x="1048.90" y="1148.70" font-size="31.10" text-anchor="middle" fill="#000" stroke="#000" >4</text>
<text x="861.00" y="1195.00" font-size="31.10" text-anchor="middle" fill="#000" stroke="#000" >X (nm)</text>
<text x="861.50" y="661.50" font-size="31.10" text-anchor="middle" fill="#3f7dc4" stroke="#3f7dc4" >dA<tspan font-size="20.53" dy="7.31">xi</tspan><tspan dy="-7.31"> = |A</tspan><tspan font-size="20.53" dy="7.31">xi1</tspan><tspan dy="-7.31">−A</tspan><tspan font-size="20.53" dy="7.31">xi2</tspan><tspan dy="-7.31">|</tspan></text>
<text x="681.00" y="765.60" font-size="31.10" text-anchor="start" fill="#3f7dc4" stroke="#3f7dc4" >A<tspan font-size="20.53" dy="7.31">xi1</tspan></text>
<text x="978.20" y="763.90" font-size="31.10" text-anchor="start" fill="#3f7dc4" stroke="#3f7dc4" >A<tspan font-size="20.53" dy="7.31">xi2</tspan></text>
<text x="1003.00" y="917.60" font-size="31.10" text-anchor="start" fill="#3f7dc4" stroke="#3f7dc4" >W<tspan font-size="20.53" dy="7.31">xi</tspan></text>
<text x="857.50" y="1022.00" font-size="31.10" text-anchor="start" fill="#3f7dc4" stroke="#3f7dc4" >L<tspan font-size="20.53" dy="7.31">i</tspan></text>
<text x="917.00" y="1061.20" font-size="31.10" text-anchor="start" fill="#3f7dc4" stroke="#3f7dc4" >R<tspan font-size="20.53" dy="7.31">xi</tspan><tspan dy="-7.31"> = L</tspan><tspan font-size="20.53" dy="7.31">i</tspan><tspan dy="-7.31">/W</tspan><tspan font-size="20.53" dy="7.31">xi</tspan></text>
<text x="838.80" y="889.70" font-size="31.10" text-anchor="middle" fill="#000" stroke="#000" >O</text>
<rect x="1119.00" y="61.30" width="30.20" height="426.20" fill="url(#cbar)" stroke="#1a1a1a" stroke-width="1.4" />
<text x="1113.80" y="46.60" font-size="31.10" text-anchor="start" fill="#000" stroke="#000" >Max</text>
<text x="1113.80" y="527.00" font-size="31.10" text-anchor="start" fill="#000" stroke="#000" >Min</text>
<text x="0" y="0" transform="translate(1167.20 252.40) rotate(90)" font-size="31.10" text-anchor="middle" fill="#000" stroke="#000" >Density</text>
<rect x="1119.00" y="692.00" width="30.20" height="425.30" fill="url(#cbar)" stroke="#1a1a1a" stroke-width="1.4" />
<text x="1113.80" y="676.00" font-size="31.10" text-anchor="start" fill="#000" stroke="#000" >Max</text>
<text x="1113.80" y="1157.00" font-size="31.10" text-anchor="start" fill="#000" stroke="#000" >Min</text>
<text x="0" y="0" transform="translate(1167.20 881.80) rotate(90)" font-size="31.10" text-anchor="middle" fill="#000" stroke="#000" >Density</text>
<text x="2.00" y="31.60" font-size="47.50" text-anchor="start" fill="#000" stroke="#000" >a</text>
<line x1="1358.80" y1="110.50" x2="2168.00" y2="110.50" stroke="#000" stroke-width="3.7" />
<line x1="1358.80" y1="176.20" x2="2168.00" y2="176.20" stroke="#000" stroke-width="3.7" />
<line x1="1358.80" y1="382.80" x2="2168.00" y2="382.80" stroke="#000" stroke-width="3.7" />
<line x1="1358.80" y1="589.20" x2="2168.00" y2="589.20" stroke="#000" stroke-width="3.7" />
<line x1="1358.80" y1="720.50" x2="2168.00" y2="720.50" stroke="#000" stroke-width="3.7" />
<line x1="1358.80" y1="852.00" x2="2168.00" y2="852.00" stroke="#000" stroke-width="3.7" />
<line x1="1358.80" y1="983.40" x2="2168.00" y2="983.40" stroke="#000" stroke-width="3.7" />
<line x1="1926.80" y1="279.50" x2="2168.00" y2="279.50" stroke="#000" stroke-width="3.7" />
<line x1="1926.80" y1="486.00" x2="2168.00" y2="486.00" stroke="#000" stroke-width="3.7" />
<line x1="1926.80" y1="654.80" x2="2168.00" y2="654.80" stroke="#000" stroke-width="3.7" />
<line x1="1926.80" y1="786.20" x2="2168.00" y2="786.20" stroke="#000" stroke-width="3.7" />
<line x1="1926.80" y1="917.70" x2="2168.00" y2="917.70" stroke="#000" stroke-width="3.7" />
<line x1="1926.80" y1="176.20" x2="1926.80" y2="985.25" stroke="#000" stroke-width="3.7" />
<text x="1762.50" y="155.00" font-size="31.10" text-anchor="middle" fill="#000" stroke="#000" >Features</text>
<text x="1642.80" y="291.20" font-size="31.10" text-anchor="middle" fill="#000" stroke="#000" >Angle (A)</text>
<text x="1642.80" y="497.80" font-size="31.10" text-anchor="middle" fill="#000" stroke="#000" >Angular difference (dA = |A<tspan font-size="20.53" dy="7.31">1</tspan><tspan dy="-7.31">−A</tspan><tspan font-size="20.53" dy="7.31">2</tspan><tspan dy="-7.31">|)</tspan></text>
<text x="1642.80" y="667.00" font-size="31.10" text-anchor="middle" fill="#000" stroke="#000" >Width (W)</text>
<text x="1642.80" y="798.50" font-size="31.10" text-anchor="middle" fill="#000" stroke="#000" >Length (L)</text>
<text x="1642.80" y="929.40" font-size="31.10" text-anchor="middle" fill="#000" stroke="#000" >Ratio of length/width (R = L/W)</text>
<text x="2045.50" y="220.80" font-size="31.10" text-anchor="middle" fill="#ee2a1c" stroke="#ee2a1c" >A<tspan font-size="20.53" dy="7.31" dx="-0.6">y1</tspan><tspan dy="-7.31">, A</tspan><tspan font-size="20.53" dy="7.31" dx="-0.6">y2</tspan><tspan dy="-7.31">,</tspan></text>
<text x="2045.50" y="258.20" font-size="31.10" text-anchor="middle" fill="#ee2a1c" stroke="#ee2a1c" >A<tspan font-size="20.53" dy="7.31">x1</tspan><tspan dy="-7.31">, A</tspan><tspan font-size="20.53" dy="7.31">x2</tspan></text>
<text x="2045.50" y="324.00" font-size="31.10" text-anchor="middle" fill="#3f7dc4" stroke="#3f7dc4" >A<tspan font-size="20.53" dy="7.31" dx="-0.6">yi1</tspan><tspan dy="-7.31">, A</tspan><tspan font-size="20.53" dy="7.31" dx="-0.6">yi2</tspan><tspan dy="-7.31">,</tspan></text>
<text x="2045.50" y="361.60" font-size="31.10" text-anchor="middle" fill="#3f7dc4" stroke="#3f7dc4" >A<tspan font-size="20.53" dy="7.31">xi1</tspan><tspan dy="-7.31">, A</tspan><tspan font-size="20.53" dy="7.31">xi2</tspan></text>
<text x="2045.50" y="429.70" font-size="31.10" text-anchor="middle" fill="#ee2a1c" stroke="#ee2a1c" >|A<tspan font-size="20.53" dy="7.31" dx="-0.6">y1</tspan><tspan dy="-7.31">−A</tspan><tspan font-size="20.53" dy="7.31" dx="-0.6">y2</tspan><tspan dy="-7.31">|,</tspan></text>
<text x="2045.50" y="467.20" font-size="31.10" text-anchor="middle" fill="#ee2a1c" stroke="#ee2a1c" >|A<tspan font-size="20.53" dy="7.31">x1</tspan><tspan dy="-7.31">−A</tspan><tspan font-size="20.53" dy="7.31">x2</tspan><tspan dy="-7.31">|</tspan></text>
<text x="2045.50" y="532.50" font-size="31.10" text-anchor="middle" fill="#3f7dc4" stroke="#3f7dc4" >|A<tspan font-size="20.53" dy="7.31" dx="-0.6">yi1</tspan><tspan dy="-7.31">−A</tspan><tspan font-size="20.53" dy="7.31" dx="-0.6">yi2</tspan><tspan dy="-7.31">|,</tspan></text>
<text x="2045.50" y="570.30" font-size="31.10" text-anchor="middle" fill="#3f7dc4" stroke="#3f7dc4" >|A<tspan font-size="20.53" dy="7.31">xi1</tspan><tspan dy="-7.31">−A</tspan><tspan font-size="20.53" dy="7.31">xi2</tspan><tspan dy="-7.31">|</tspan></text>
<text x="2045.50" y="632.80" font-size="31.10" text-anchor="middle" fill="#ee2a1c" stroke="#ee2a1c" >W<tspan font-size="20.53" dy="7.31">y</tspan><tspan dy="-7.31">, W</tspan><tspan font-size="20.53" dy="7.31">x</tspan></text>
<text x="2045.50" y="698.50" font-size="31.10" text-anchor="middle" fill="#3f7dc4" stroke="#3f7dc4" >W<tspan font-size="20.53" dy="7.31">yi</tspan><tspan dy="-7.31">, W</tspan><tspan font-size="20.53" dy="7.31">xi</tspan></text>
<text x="2045.50" y="765.00" font-size="31.10" text-anchor="middle" fill="#ee2a1c" stroke="#ee2a1c" >L</text>
<text x="2045.50" y="832.00" font-size="31.10" text-anchor="middle" fill="#3f7dc4" stroke="#3f7dc4" >L<tspan font-size="20.53" dy="7.31">i</tspan></text>
<text x="2045.50" y="896.60" font-size="31.10" text-anchor="middle" fill="#ee2a1c" stroke="#ee2a1c" >R<tspan font-size="20.53" dy="7.31">y</tspan><tspan dy="-7.31">, R</tspan><tspan font-size="20.53" dy="7.31">x</tspan></text>
<text x="2045.50" y="962.30" font-size="31.10" text-anchor="middle" fill="#3f7dc4" stroke="#3f7dc4" >R<tspan font-size="20.53" dy="7.31">yi</tspan><tspan dy="-7.31">, R</tspan><tspan font-size="20.53" dy="7.31">xi</tspan></text>
<line x1="137.20" y1="1261.20" x2="962.00" y2="1261.20" stroke="#000" stroke-width="3.5" />
<line x1="137.20" y1="1360.40" x2="962.00" y2="1360.40" stroke="#000" stroke-width="3.5" />
<line x1="137.20" y1="1890.50" x2="962.00" y2="1890.50" stroke="#000" stroke-width="3.5" />
<text x="550.00" y="1322.00" font-size="31.10" text-anchor="middle" fill="#000" stroke="#000" >Features</text>
<text x="364.00" y="1422.20" font-size="31.10" text-anchor="middle" fill="#000" stroke="#000" >Num of C atoms (in head)</text>
<text x="776.60" y="1422.20" font-size="31.10" text-anchor="middle" fill="#000" stroke="#000" >N<tspan font-size="20.53" dy="7.31">c-head</tspan></text>
<text x="364.00" y="1511.80" font-size="31.10" text-anchor="middle" fill="#000" stroke="#000" >Num of N atoms</text>
<text x="776.60" y="1511.80" font-size="31.10" text-anchor="middle" fill="#000" stroke="#000" >N<tspan font-size="20.53" dy="7.31">N</tspan></text>
<text x="364.00" y="1600.80" font-size="31.10" text-anchor="middle" fill="#000" stroke="#000" >Num of O atoms</text>
<text x="776.60" y="1600.80" font-size="31.10" text-anchor="middle" fill="#000" stroke="#000" >N<tspan font-size="20.53" dy="7.31">O</tspan></text>
<text x="364.00" y="1693.20" font-size="31.10" text-anchor="middle" fill="#000" stroke="#000" >Num of atoms (in head)</text>
<text x="776.60" y="1693.20" font-size="31.10" text-anchor="middle" fill="#000" stroke="#000" >N<tspan font-size="20.53" dy="7.31">head</tspan></text>
<text x="364.00" y="1782.20" font-size="31.10" text-anchor="middle" fill="#000" stroke="#000" >Head class</text>
<text x="776.60" y="1782.20" font-size="31.10" text-anchor="middle" fill="#000" stroke="#000" >Q<tspan font-size="20.53" dy="7.31">head</tspan></text>
<text x="364.00" y="1864.40" font-size="31.10" text-anchor="middle" fill="#000" stroke="#000" >Num of tails</text>
<text x="776.60" y="1864.40" font-size="31.10" text-anchor="middle" fill="#000" stroke="#000" >N<tspan font-size="20.53" dy="7.31">tail</tspan></text>
<text x="1.60" y="1255.30" font-size="47.50" text-anchor="start" fill="#000" stroke="#000" >b</text>
<path d="M1455.7 1850.5h18v17.1h-18zM1476.2 1830.7h18v17.1h-18zM1640.7 1830.7h18v17.1h-18zM1476.2 1672.7h18v17.1h-18zM1496.8 1811.0h18v17.1h-18zM1517.4 1791.2h18v17.1h-18zM1537.9 1771.5h18v17.1h-18zM1558.5 1751.7h18v17.1h-18zM1579.0 1732.0h18v17.1h-18zM1599.5 1712.2h18v17.1h-18zM1620.1 1692.5h18v17.1h-18zM1640.7 1672.7h18v17.1h-18zM1661.2 1653.0h18v17.1h-18zM1681.8 1633.2h18v17.1h-18zM1702.3 1613.5h18v17.1h-18zM1722.9 1593.7h18v17.1h-18zM1743.4 1574.0h18v17.1h-18zM1846.2 1574.0h18v17.1h-18zM1743.4 1475.2h18v17.1h-18zM1887.2 1574.0h18v17.1h-18zM1743.4 1435.7h18v17.1h-18zM1764.0 1554.2h18v17.1h-18zM1784.5 1534.5h18v17.1h-18zM1805.1 1514.7h18v17.1h-18zM1887.2 1514.7h18v17.1h-18zM1805.1 1435.7h18v17.1h-18zM1907.8 1514.7h18v17.1h-18zM1805.1 1416.0h18v17.1h-18zM1825.6 1495.0h18v17.1h-18zM1846.2 1475.2h18v17.1h-18zM1866.7 1475.2h18v17.1h-18zM1846.2 1455.5h18v17.1h-18zM1887.2 1475.2h18v17.1h-18zM1846.2 1435.7h18v17.1h-18zM1866.7 1455.5h18v17.1h-18zM1887.2 1435.7h18v17.1h-18zM1907.8 1435.7h18v17.1h-18zM1887.2 1416.0h18v17.1h-18zM1907.8 1416.0h18v17.1h-18zM1928.4 1396.2h18v17.1h-18zM1948.9 1376.5h18v17.1h-18zM1969.5 1356.7h18v17.1h-18zM1990.0 1337.0h18v17.1h-18zM2010.6 1317.2h18v17.1h-18zM2031.1 1297.5h18v17.1h-18z" fill="#fc200f"/>
<path d="M1496.8 1830.7h18v17.1h-18zM1476.2 1811.0h18v17.1h-18zM1537.9 1791.2h18v17.1h-18zM1517.4 1771.5h18v17.1h-18zM1743.4 1791.2h18v17.1h-18zM1517.4 1574.0h18v17.1h-18zM1743.4 1771.5h18v17.1h-18zM1537.9 1574.0h18v17.1h-18zM1681.8 1751.7h18v17.1h-18zM1558.5 1633.2h18v17.1h-18zM1846.2 1751.7h18v17.1h-18zM1558.5 1475.2h18v17.1h-18zM1620.1 1732.0h18v17.1h-18zM1579.0 1692.5h18v17.1h-18zM1620.1 1712.2h18v17.1h-18zM1599.5 1692.5h18v17.1h-18zM1702.3 1712.2h18v17.1h-18zM1599.5 1613.5h18v17.1h-18zM1764.0 1593.7h18v17.1h-18zM1722.9 1554.2h18v17.1h-18zM2031.1 1593.7h18v17.1h-18zM1722.9 1297.5h18v17.1h-18zM1805.1 1574.0h18v17.1h-18zM1743.4 1514.7h18v17.1h-18zM1866.7 1574.0h18v17.1h-18zM1743.4 1455.5h18v17.1h-18zM1907.8 1574.0h18v17.1h-18zM1743.4 1416.0h18v17.1h-18zM1969.5 1554.2h18v17.1h-18zM1764.0 1356.7h18v17.1h-18zM2031.1 1554.2h18v17.1h-18zM1764.0 1297.5h18v17.1h-18zM1846.2 1514.7h18v17.1h-18zM1805.1 1475.2h18v17.1h-18zM1866.7 1514.7h18v17.1h-18zM1805.1 1455.5h18v17.1h-18zM2031.1 1495.0h18v17.1h-18zM1825.6 1297.5h18v17.1h-18zM1907.8 1475.2h18v17.1h-18zM1846.2 1416.0h18v17.1h-18zM1887.2 1455.5h18v17.1h-18zM1866.7 1435.7h18v17.1h-18zM1907.8 1455.5h18v17.1h-18zM1866.7 1416.0h18v17.1h-18zM2031.1 1396.2h18v17.1h-18zM1928.4 1297.5h18v17.1h-18zM2031.1 1356.7h18v17.1h-18zM1969.5 1297.5h18v17.1h-18zM2010.6 1337.0h18v17.1h-18zM1990.0 1317.2h18v17.1h-18z" fill="#ed9fa3"/>
<path d="M1517.4 1830.7h18v17.1h-18zM1476.2 1791.2h18v17.1h-18zM1537.9 1830.7h18v17.1h-18zM1476.2 1771.5h18v17.1h-18zM1558.5 1830.7h18v17.1h-18zM1476.2 1751.7h18v17.1h-18zM1743.4 1830.7h18v17.1h-18zM1476.2 1574.0h18v17.1h-18zM1805.1 1830.7h18v17.1h-18zM1476.2 1514.7h18v17.1h-18zM1846.2 1830.7h18v17.1h-18zM1476.2 1475.2h18v17.1h-18zM1866.7 1830.7h18v17.1h-18zM1476.2 1455.5h18v17.1h-18zM1517.4 1811.0h18v17.1h-18zM1496.8 1791.2h18v17.1h-18zM1537.9 1811.0h18v17.1h-18zM1496.8 1771.5h18v17.1h-18zM1558.5 1811.0h18v17.1h-18zM1496.8 1751.7h18v17.1h-18zM1620.1 1811.0h18v17.1h-18zM1496.8 1692.5h18v17.1h-18zM1743.4 1811.0h18v17.1h-18zM1496.8 1574.0h18v17.1h-18zM1846.2 1811.0h18v17.1h-18zM1496.8 1475.2h18v17.1h-18zM1866.7 1811.0h18v17.1h-18zM1496.8 1455.5h18v17.1h-18zM1558.5 1791.2h18v17.1h-18zM1517.4 1751.7h18v17.1h-18zM1599.5 1791.2h18v17.1h-18zM1517.4 1712.2h18v17.1h-18zM1620.1 1791.2h18v17.1h-18zM1517.4 1692.5h18v17.1h-18zM1640.7 1791.2h18v17.1h-18zM1517.4 1672.7h18v17.1h-18zM1661.2 1791.2h18v17.1h-18zM1517.4 1653.0h18v17.1h-18zM1805.1 1791.2h18v17.1h-18zM1517.4 1514.7h18v17.1h-18zM1846.2 1791.2h18v17.1h-18zM1517.4 1475.2h18v17.1h-18zM1866.7 1791.2h18v17.1h-18zM1517.4 1455.5h18v17.1h-18zM1887.2 1791.2h18v17.1h-18zM1517.4 1435.7h18v17.1h-18zM1907.8 1791.2h18v17.1h-18zM1517.4 1416.0h18v17.1h-18zM2010.6 1791.2h18v17.1h-18zM1517.4 1317.2h18v17.1h-18zM1558.5 1771.5h18v17.1h-18zM1537.9 1751.7h18v17.1h-18zM1599.5 1771.5h18v17.1h-18zM1537.9 1712.2h18v17.1h-18zM1620.1 1771.5h18v17.1h-18zM1537.9 1692.5h18v17.1h-18zM1805.1 1771.5h18v17.1h-18zM1537.9 1514.7h18v17.1h-18zM1846.2 1771.5h18v17.1h-18zM1537.9 1475.2h18v17.1h-18zM1866.7 1771.5h18v17.1h-18zM1537.9 1455.5h18v17.1h-18zM1887.2 1771.5h18v17.1h-18zM1537.9 1435.7h18v17.1h-18zM1907.8 1771.5h18v17.1h-18zM1537.9 1416.0h18v17.1h-18zM2010.6 1771.5h18v17.1h-18zM1537.9 1317.2h18v17.1h-18zM1579.0 1751.7h18v17.1h-18zM1558.5 1732.0h18v17.1h-18zM1599.5 1751.7h18v17.1h-18zM1558.5 1712.2h18v17.1h-18zM1620.1 1751.7h18v17.1h-18zM1558.5 1692.5h18v17.1h-18zM1743.4 1751.7h18v17.1h-18zM1558.5 1574.0h18v17.1h-18zM1805.1 1751.7h18v17.1h-18zM1558.5 1514.7h18v17.1h-18zM1866.7 1751.7h18v17.1h-18zM1558.5 1455.5h18v17.1h-18zM1887.2 1751.7h18v17.1h-18zM1558.5 1435.7h18v17.1h-18zM1907.8 1751.7h18v17.1h-18zM1558.5 1416.0h18v17.1h-18zM1599.5 1732.0h18v17.1h-18zM1579.0 1712.2h18v17.1h-18zM1846.2 1732.0h18v17.1h-18zM1579.0 1475.2h18v17.1h-18zM1743.4 1712.2h18v17.1h-18zM1599.5 1574.0h18v17.1h-18zM1805.1 1712.2h18v17.1h-18zM1599.5 1514.7h18v17.1h-18zM1846.2 1712.2h18v17.1h-18zM1599.5 1475.2h18v17.1h-18zM1866.7 1712.2h18v17.1h-18zM1599.5 1455.5h18v17.1h-18zM1948.9 1712.2h18v17.1h-18zM1599.5 1376.5h18v17.1h-18zM1743.4 1692.5h18v17.1h-18zM1620.1 1574.0h18v17.1h-18zM1846.2 1692.5h18v17.1h-18zM1620.1 1475.2h18v17.1h-18zM1948.9 1692.5h18v17.1h-18zM1620.1 1376.5h18v17.1h-18zM1661.2 1672.7h18v17.1h-18zM1640.7 1653.0h18v17.1h-18zM1743.4 1633.2h18v17.1h-18zM1681.8 1574.0h18v17.1h-18zM1805.1 1633.2h18v17.1h-18zM1681.8 1514.7h18v17.1h-18zM1846.2 1633.2h18v17.1h-18zM1681.8 1475.2h18v17.1h-18zM1866.7 1633.2h18v17.1h-18zM1681.8 1455.5h18v17.1h-18zM1887.2 1633.2h18v17.1h-18zM1681.8 1435.7h18v17.1h-18zM1907.8 1633.2h18v17.1h-18zM1681.8 1416.0h18v17.1h-18zM1743.4 1613.5h18v17.1h-18zM1702.3 1574.0h18v17.1h-18zM1805.1 1613.5h18v17.1h-18zM1702.3 1514.7h18v17.1h-18zM1846.2 1613.5h18v17.1h-18zM1702.3 1475.2h18v17.1h-18zM1866.7 1613.5h18v17.1h-18zM1702.3 1455.5h18v17.1h-18zM1784.5 1593.7h18v17.1h-18zM1722.9 1534.5h18v17.1h-18zM1825.6 1593.7h18v17.1h-18zM1722.9 1495.0h18v17.1h-18zM1969.5 1593.7h18v17.1h-18zM1722.9 1356.7h18v17.1h-18zM1825.6 1554.2h18v17.1h-18zM1764.0 1495.0h18v17.1h-18zM1928.4 1554.2h18v17.1h-18zM1764.0 1396.2h18v17.1h-18zM1825.6 1534.5h18v17.1h-18zM1784.5 1495.0h18v17.1h-18zM2031.1 1534.5h18v17.1h-18zM1784.5 1297.5h18v17.1h-18zM1948.9 1514.7h18v17.1h-18zM1805.1 1376.5h18v17.1h-18zM1928.4 1495.0h18v17.1h-18zM1825.6 1396.2h18v17.1h-18zM1969.5 1495.0h18v17.1h-18zM1825.6 1356.7h18v17.1h-18zM1948.9 1475.2h18v17.1h-18zM1846.2 1376.5h18v17.1h-18zM1948.9 1455.5h18v17.1h-18zM1866.7 1376.5h18v17.1h-18zM1969.5 1396.2h18v17.1h-18zM1928.4 1356.7h18v17.1h-18z" fill="#f8ebe5"/>
<path d="M1722.9 1830.7h18v17.1h-18zM1476.2 1593.7h18v17.1h-18zM1928.4 1830.7h18v17.1h-18zM1476.2 1396.2h18v17.1h-18zM1722.9 1811.0h18v17.1h-18zM1496.8 1593.7h18v17.1h-18zM1928.4 1811.0h18v17.1h-18zM1496.8 1396.2h18v17.1h-18zM1969.5 1811.0h18v17.1h-18zM1496.8 1356.7h18v17.1h-18zM1661.2 1771.5h18v17.1h-18zM1537.9 1653.0h18v17.1h-18zM1722.9 1751.7h18v17.1h-18zM1558.5 1593.7h18v17.1h-18zM1784.5 1751.7h18v17.1h-18zM1558.5 1534.5h18v17.1h-18zM1825.6 1751.7h18v17.1h-18zM1558.5 1495.0h18v17.1h-18zM1969.5 1751.7h18v17.1h-18zM1558.5 1356.7h18v17.1h-18zM1990.0 1751.7h18v17.1h-18zM1558.5 1337.0h18v17.1h-18zM2031.1 1751.7h18v17.1h-18zM1558.5 1297.5h18v17.1h-18zM1681.8 1732.0h18v17.1h-18zM1579.0 1633.2h18v17.1h-18zM1722.9 1732.0h18v17.1h-18zM1579.0 1593.7h18v17.1h-18zM1969.5 1732.0h18v17.1h-18zM1579.0 1356.7h18v17.1h-18zM2010.6 1732.0h18v17.1h-18zM1579.0 1317.2h18v17.1h-18zM1722.9 1712.2h18v17.1h-18zM1599.5 1593.7h18v17.1h-18zM1969.5 1712.2h18v17.1h-18zM1599.5 1356.7h18v17.1h-18zM1990.0 1712.2h18v17.1h-18zM1599.5 1337.0h18v17.1h-18zM1681.8 1692.5h18v17.1h-18zM1620.1 1633.2h18v17.1h-18zM1969.5 1692.5h18v17.1h-18zM1620.1 1356.7h18v17.1h-18zM1990.0 1692.5h18v17.1h-18zM1620.1 1337.0h18v17.1h-18zM2010.6 1692.5h18v17.1h-18zM1620.1 1317.2h18v17.1h-18zM1784.5 1633.2h18v17.1h-18zM1681.8 1534.5h18v17.1h-18zM1743.4 1593.7h18v17.1h-18zM1722.9 1574.0h18v17.1h-18zM1907.8 1593.7h18v17.1h-18zM1722.9 1416.0h18v17.1h-18zM1948.9 1593.7h18v17.1h-18zM1722.9 1376.5h18v17.1h-18zM1969.5 1574.0h18v17.1h-18zM1743.4 1356.7h18v17.1h-18zM1805.1 1554.2h18v17.1h-18zM1764.0 1514.7h18v17.1h-18zM1846.2 1554.2h18v17.1h-18zM1764.0 1475.2h18v17.1h-18zM1887.2 1554.2h18v17.1h-18zM1764.0 1435.7h18v17.1h-18zM1825.6 1514.7h18v17.1h-18zM1805.1 1495.0h18v17.1h-18zM1928.4 1514.7h18v17.1h-18zM1805.1 1396.2h18v17.1h-18zM1969.5 1514.7h18v17.1h-18zM1805.1 1356.7h18v17.1h-18zM2031.1 1514.7h18v17.1h-18zM1805.1 1297.5h18v17.1h-18zM1846.2 1495.0h18v17.1h-18zM1825.6 1475.2h18v17.1h-18zM1866.7 1495.0h18v17.1h-18zM1825.6 1455.5h18v17.1h-18zM1887.2 1495.0h18v17.1h-18zM1825.6 1435.7h18v17.1h-18zM1969.5 1475.2h18v17.1h-18zM1846.2 1356.7h18v17.1h-18zM2031.1 1475.2h18v17.1h-18zM1846.2 1297.5h18v17.1h-18zM1928.4 1455.5h18v17.1h-18zM1866.7 1396.2h18v17.1h-18zM2031.1 1455.5h18v17.1h-18zM1866.7 1297.5h18v17.1h-18zM1928.4 1435.7h18v17.1h-18zM1887.2 1396.2h18v17.1h-18zM1969.5 1435.7h18v17.1h-18zM1887.2 1356.7h18v17.1h-18zM2031.1 1435.7h18v17.1h-18zM1887.2 1297.5h18v17.1h-18zM1928.4 1416.0h18v17.1h-18zM1907.8 1396.2h18v17.1h-18zM1969.5 1416.0h18v17.1h-18zM1907.8 1356.7h18v17.1h-18z" fill="#e8f3fb"/>
<path d="M1805.1 1593.7h18v17.1h-18zM1722.9 1514.7h18v17.1h-18zM1866.7 1593.7h18v17.1h-18zM1722.9 1455.5h18v17.1h-18zM1887.2 1593.7h18v17.1h-18zM1722.9 1435.7h18v17.1h-18zM1784.5 1574.0h18v17.1h-18zM1743.4 1534.5h18v17.1h-18zM1866.7 1554.2h18v17.1h-18zM1764.0 1455.5h18v17.1h-18zM1907.8 1554.2h18v17.1h-18zM1764.0 1416.0h18v17.1h-18zM1805.1 1534.5h18v17.1h-18zM1784.5 1514.7h18v17.1h-18zM1846.2 1534.5h18v17.1h-18zM1784.5 1475.2h18v17.1h-18zM1866.7 1534.5h18v17.1h-18zM1784.5 1455.5h18v17.1h-18zM1907.8 1534.5h18v17.1h-18zM1784.5 1416.0h18v17.1h-18zM1969.5 1455.5h18v17.1h-18zM1866.7 1356.7h18v17.1h-18zM2031.1 1416.0h18v17.1h-18zM1907.8 1297.5h18v17.1h-18zM1990.0 1396.2h18v17.1h-18zM1928.4 1337.0h18v17.1h-18zM2010.6 1396.2h18v17.1h-18zM1928.4 1317.2h18v17.1h-18zM1969.5 1376.5h18v17.1h-18zM1948.9 1356.7h18v17.1h-18z" fill="#8eb5ed"/>
<path d="M1846.2 1593.7h18v17.1h-18zM1722.9 1475.2h18v17.1h-18zM1887.2 1534.5h18v17.1h-18zM1784.5 1435.7h18v17.1h-18zM1907.8 1495.0h18v17.1h-18zM1825.6 1416.0h18v17.1h-18z" fill="#1703f8"/>
<rect x="1455.00" y="1295.90" width="596.20" height="573.00" fill="none" stroke="#000" stroke-width="4.6" />
<rect x="2060.70" y="1294.40" width="15.70" height="71.72" fill="#fc200f" />
<rect x="2060.70" y="1366.12" width="15.70" height="71.72" fill="#ed9fa3" />
<rect x="2060.70" y="1437.85" width="15.70" height="71.72" fill="#f8ebe5" />
<rect x="2060.70" y="1653.03" width="15.70" height="71.72" fill="#e8f3fb" />
<rect x="2060.70" y="1724.75" width="15.70" height="71.72" fill="#8eb5ed" />
<rect x="2060.70" y="1796.47" width="15.70" height="71.72" fill="#1703f8" />
<rect x="2060.70" y="1294.40" width="15.70" height="573.80" fill="none" stroke="#222" stroke-width="1.1" />
<line x1="2076.40" y1="1294.40" x2="2087.80" y2="1294.40" stroke="#222" stroke-width="1.2" />
<line x1="2076.40" y1="1366.12" x2="2087.80" y2="1366.12" stroke="#222" stroke-width="1.2" />
<line x1="2076.40" y1="1437.85" x2="2087.80" y2="1437.85" stroke="#222" stroke-width="1.2" />
<line x1="2076.40" y1="1509.58" x2="2087.80" y2="1509.58" stroke="#222" stroke-width="1.2" />
<line x1="2076.40" y1="1581.30" x2="2087.80" y2="1581.30" stroke="#222" stroke-width="1.2" />
<line x1="2076.40" y1="1653.03" x2="2087.80" y2="1653.03" stroke="#222" stroke-width="1.2" />
<line x1="2076.40" y1="1724.75" x2="2087.80" y2="1724.75" stroke="#222" stroke-width="1.2" />
<line x1="2076.40" y1="1796.47" x2="2087.80" y2="1796.47" stroke="#222" stroke-width="1.2" />
<line x1="2076.40" y1="1868.20" x2="2087.80" y2="1868.20" stroke="#222" stroke-width="1.2" />
<text x="2104.30" y="1298.10" font-size="31.10" text-anchor="start" fill="#000" stroke="#000" >1</text>
<text x="2104.30" y="1443.20" font-size="31.10" text-anchor="start" fill="#000" stroke="#000" >0.5</text>
<text x="2104.30" y="1586.20" font-size="31.10" text-anchor="start" fill="#000" stroke="#000" >0</text>
<text x="2104.30" y="1728.10" font-size="31.10" text-anchor="start" fill="#000" stroke="#000" >- 0.5</text>
<text x="2104.30" y="1865.50" font-size="31.10" text-anchor="start" fill="#000" stroke="#000" >- 1</text>
<text x="1743.70" y="1263.20" font-size="31.10" text-anchor="middle" fill="#000" stroke="#000" >Independent features</text>
<text x="0" y="0" transform="translate(1419.30 1604.00) rotate(-90)" font-size="31.40" text-anchor="middle" fill="#000" stroke="#000" >Pearson correlation coefficient</text>
<text x="1362.30" y="1255.20" font-size="47.50" text-anchor="start" fill="#000" stroke="#000" >c</text>
<rect x="218.30" y="2063.27" width="24.80" height="345.63" fill="#e4695b" stroke="#4a5056" stroke-width="1.3" />
<line x1="230.70" y1="2408.90" x2="230.70" y2="2424.90" stroke="#000" stroke-width="3.6" />
<text x="0" y="0" transform="translate(240.90 2432.00) rotate(-90)" font-size="33.00" text-anchor="end" fill="#000" stroke="#000" >R<tspan font-size="22.44" dy="8.25">xi</tspan></text>
<rect x="255.00" y="2086.49" width="24.80" height="322.41" fill="#e4695b" stroke="#4a5056" stroke-width="1.3" />
<line x1="267.40" y1="2408.90" x2="267.40" y2="2424.90" stroke="#000" stroke-width="3.6" />
<text x="0" y="0" transform="translate(277.60 2432.00) rotate(-90)" font-size="33.00" text-anchor="end" fill="#000" stroke="#000" >W<tspan font-size="22.44" dy="8.25">xi</tspan></text>
<rect x="291.70" y="2108.25" width="24.80" height="300.65" fill="#e4695b" stroke="#4a5056" stroke-width="1.3" />
<line x1="304.10" y1="2408.90" x2="304.10" y2="2424.90" stroke="#000" stroke-width="3.6" />
<text x="0" y="0" transform="translate(314.30 2432.00) rotate(-90)" font-size="33.00" text-anchor="end" fill="#000" stroke="#000" >|A<tspan font-size="22.44" dy="8.25" dx="-0.6">yi1</tspan><tspan dy="-8.25">-A</tspan><tspan font-size="22.44" dy="8.25" dx="-0.6">yi2</tspan><tspan dy="-8.25">|</tspan></text>
<rect x="328.40" y="2127.48" width="24.80" height="281.42" fill="#e4695b" stroke="#4a5056" stroke-width="1.3" />
<line x1="340.80" y1="2408.90" x2="340.80" y2="2424.90" stroke="#000" stroke-width="3.6" />
<text x="0" y="0" transform="translate(351.00 2432.00) rotate(-90)" font-size="33.00" text-anchor="end" fill="#000" stroke="#000" >A<tspan font-size="22.44" dy="8.25">x1</tspan></text>
<rect x="365.10" y="2138.37" width="24.80" height="270.53" fill="#e4695b" stroke="#4a5056" stroke-width="1.3" />
<line x1="377.50" y1="2408.90" x2="377.50" y2="2424.90" stroke="#000" stroke-width="3.6" />
<text x="0" y="0" transform="translate(387.70 2432.00) rotate(-90)" font-size="33.00" text-anchor="end" fill="#000" stroke="#000" >L<tspan font-size="22.44" dy="8.25">i</tspan></text>
<rect x="401.80" y="2155.78" width="24.80" height="253.12" fill="#e4695b" stroke="#4a5056" stroke-width="1.3" />
<line x1="414.20" y1="2408.90" x2="414.20" y2="2424.90" stroke="#000" stroke-width="3.6" />
<text x="0" y="0" transform="translate(424.40 2432.00) rotate(-90)" font-size="33.00" text-anchor="end" fill="#000" stroke="#000" >W<tspan font-size="22.44" dy="8.25">x</tspan></text>
<rect x="438.50" y="2170.66" width="24.80" height="238.24" fill="#5e95b8" stroke="#4a5056" stroke-width="1.3" />
<line x1="450.90" y1="2408.90" x2="450.90" y2="2424.90" stroke="#000" stroke-width="3.6" />
<text x="0" y="0" transform="translate(461.10 2432.00) rotate(-90)" font-size="33.00" text-anchor="end" fill="#000" stroke="#000" >N<tspan font-size="22.44" dy="8.25">N</tspan></text>
<rect x="475.20" y="2176.83" width="24.80" height="232.07" fill="#e4695b" stroke="#4a5056" stroke-width="1.3" />
<line x1="487.60" y1="2408.90" x2="487.60" y2="2424.90" stroke="#000" stroke-width="3.6" />
<text x="0" y="0" transform="translate(497.80 2432.00) rotate(-90)" font-size="33.00" text-anchor="end" fill="#000" stroke="#000" >R<tspan font-size="22.44" dy="8.25">yi</tspan></text>
<rect x="511.90" y="2178.64" width="24.80" height="230.26" fill="#e4695b" stroke="#4a5056" stroke-width="1.3" />
<line x1="524.30" y1="2408.90" x2="524.30" y2="2424.90" stroke="#000" stroke-width="3.6" />
<text x="0" y="0" transform="translate(534.50 2432.00) rotate(-90)" font-size="33.00" text-anchor="end" fill="#000" stroke="#000" >R<tspan font-size="22.44" dy="8.25">x</tspan></text>
<rect x="548.60" y="2189.52" width="24.80" height="219.38" fill="#e4695b" stroke="#4a5056" stroke-width="1.3" />
<line x1="561.00" y1="2408.90" x2="561.00" y2="2424.90" stroke="#000" stroke-width="3.6" />
<text x="0" y="0" transform="translate(571.20 2432.00) rotate(-90)" font-size="33.00" text-anchor="end" fill="#000" stroke="#000" >R<tspan font-size="22.44" dy="8.25">y</tspan></text>
<rect x="585.30" y="2190.61" width="24.80" height="218.29" fill="#e4695b" stroke="#4a5056" stroke-width="1.3" />
<line x1="597.70" y1="2408.90" x2="597.70" y2="2424.90" stroke="#000" stroke-width="3.6" />
<text x="0" y="0" transform="translate(607.90 2432.00) rotate(-90)" font-size="33.00" text-anchor="end" fill="#000" stroke="#000" >W<tspan font-size="22.44" dy="8.25">yi</tspan></text>
<rect x="622.00" y="2204.76" width="24.80" height="204.14" fill="#e4695b" stroke="#4a5056" stroke-width="1.3" />
<line x1="634.40" y1="2408.90" x2="634.40" y2="2424.90" stroke="#000" stroke-width="3.6" />
<text x="0" y="0" transform="translate(644.60 2432.00) rotate(-90)" font-size="33.00" text-anchor="end" fill="#000" stroke="#000" >L</text>
<rect x="658.70" y="2212.74" width="24.80" height="196.16" fill="#5e95b8" stroke="#4a5056" stroke-width="1.3" />
<line x1="671.10" y1="2408.90" x2="671.10" y2="2424.90" stroke="#000" stroke-width="3.6" />
<text x="0" y="0" transform="translate(681.30 2432.00) rotate(-90)" font-size="33.00" text-anchor="end" fill="#000" stroke="#000" >N<tspan font-size="22.44" dy="8.25">O</tspan></text>
<rect x="695.40" y="2220.00" width="24.80" height="188.90" fill="#e4695b" stroke="#4a5056" stroke-width="1.3" />
<line x1="707.80" y1="2408.90" x2="707.80" y2="2424.90" stroke="#000" stroke-width="3.6" />
<text x="0" y="0" transform="translate(718.00 2432.00) rotate(-90)" font-size="33.00" text-anchor="end" fill="#000" stroke="#000" >W<tspan font-size="22.44" dy="8.25">y</tspan></text>
<rect x="732.10" y="2251.56" width="24.80" height="157.34" fill="#e4695b" stroke="#4a5056" stroke-width="1.3" />
<line x1="744.50" y1="2408.90" x2="744.50" y2="2424.90" stroke="#000" stroke-width="3.6" />
<text x="0" y="0" transform="translate(754.70 2432.00) rotate(-90)" font-size="33.00" text-anchor="end" fill="#000" stroke="#000" >|A<tspan font-size="22.44" dy="8.25">xi1</tspan><tspan dy="-8.25">-A</tspan><tspan font-size="22.44" dy="8.25">xi2</tspan><tspan dy="-8.25">|</tspan></text>
<rect x="768.80" y="2262.81" width="24.80" height="146.09" fill="#5e95b8" stroke="#4a5056" stroke-width="1.3" />
<line x1="781.20" y1="2408.90" x2="781.20" y2="2424.90" stroke="#000" stroke-width="3.6" />
<text x="0" y="0" transform="translate(791.40 2432.00) rotate(-90)" font-size="33.00" text-anchor="end" fill="#000" stroke="#000" >N<tspan font-size="22.44" dy="8.25">head</tspan></text>
<rect x="805.50" y="2299.46" width="24.80" height="109.44" fill="#5e95b8" stroke="#4a5056" stroke-width="1.3" />
<line x1="817.90" y1="2408.90" x2="817.90" y2="2424.90" stroke="#000" stroke-width="3.6" />
<text x="0" y="0" transform="translate(828.10 2432.00) rotate(-90)" font-size="33.00" text-anchor="end" fill="#000" stroke="#000" >N<tspan font-size="22.44" dy="8.25">tail</tspan></text>
<rect x="842.20" y="2308.53" width="24.80" height="100.37" fill="#5e95b8" stroke="#4a5056" stroke-width="1.3" />
<line x1="854.60" y1="2408.90" x2="854.60" y2="2424.90" stroke="#000" stroke-width="3.6" />
<text x="0" y="0" transform="translate(864.80 2432.00) rotate(-90)" font-size="33.00" text-anchor="end" fill="#000" stroke="#000" >N<tspan font-size="22.44" dy="8.25">c-head</tspan></text>
<rect x="878.90" y="2310.34" width="24.80" height="98.56" fill="#e4695b" stroke="#4a5056" stroke-width="1.3" />
<line x1="891.30" y1="2408.90" x2="891.30" y2="2424.90" stroke="#000" stroke-width="3.6" />
<text x="0" y="0" transform="translate(901.50 2432.00) rotate(-90)" font-size="33.00" text-anchor="end" fill="#000" stroke="#000" >A<tspan font-size="22.44" dy="8.25" dx="-0.6">yi1</tspan></text>
<rect x="915.60" y="2323.76" width="24.80" height="85.14" fill="#e4695b" stroke="#4a5056" stroke-width="1.3" />
<line x1="928.00" y1="2408.90" x2="928.00" y2="2424.90" stroke="#000" stroke-width="3.6" />
<text x="0" y="0" transform="translate(938.20 2432.00) rotate(-90)" font-size="33.00" text-anchor="end" fill="#000" stroke="#000" >A<tspan font-size="22.44" dy="8.25" dx="-0.6">yi2</tspan></text>
<rect x="952.30" y="2325.58" width="24.80" height="83.32" fill="#e4695b" stroke="#4a5056" stroke-width="1.3" />
<line x1="964.70" y1="2408.90" x2="964.70" y2="2424.90" stroke="#000" stroke-width="3.6" />
<text x="0" y="0" transform="translate(974.90 2432.00) rotate(-90)" font-size="33.00" text-anchor="end" fill="#000" stroke="#000" >A<tspan font-size="22.44" dy="8.25" dx="-0.6">y2</tspan></text>
<rect x="989.00" y="2327.03" width="24.80" height="81.87" fill="#5e95b8" stroke="#4a5056" stroke-width="1.3" />
<line x1="1001.40" y1="2408.90" x2="1001.40" y2="2424.90" stroke="#000" stroke-width="3.6" />
<text x="0" y="0" transform="translate(1011.60 2432.00) rotate(-90)" font-size="33.00" text-anchor="end" fill="#000" stroke="#000" >Q<tspan font-size="22.44" dy="8.25">head</tspan></text>
<rect x="1025.70" y="2341.18" width="24.80" height="67.72" fill="#e4695b" stroke="#4a5056" stroke-width="1.3" />
<line x1="1038.10" y1="2408.90" x2="1038.10" y2="2424.90" stroke="#000" stroke-width="3.6" />
<text x="0" y="0" transform="translate(1048.30 2432.00) rotate(-90)" font-size="33.00" text-anchor="end" fill="#000" stroke="#000" >A<tspan font-size="22.44" dy="8.25">xi2</tspan></text>
<rect x="1062.40" y="2360.41" width="24.80" height="48.49" fill="#e4695b" stroke="#4a5056" stroke-width="1.3" />
<line x1="1074.80" y1="2408.90" x2="1074.80" y2="2424.90" stroke="#000" stroke-width="3.6" />
<text x="0" y="0" transform="translate(1085.00 2432.00) rotate(-90)" font-size="33.00" text-anchor="end" fill="#000" stroke="#000" >A<tspan font-size="22.44" dy="8.25">xi1</tspan></text>
<rect x="1099.10" y="2364.76" width="24.80" height="44.14" fill="#e4695b" stroke="#4a5056" stroke-width="1.3" />
<line x1="1111.50" y1="2408.90" x2="1111.50" y2="2424.90" stroke="#000" stroke-width="3.6" />
<text x="0" y="0" transform="translate(1121.70 2432.00) rotate(-90)" font-size="33.00" text-anchor="end" fill="#000" stroke="#000" >A<tspan font-size="22.44" dy="8.25" dx="-0.6">y1</tspan></text>
<rect x="1135.80" y="2383.27" width="24.80" height="25.63" fill="#e4695b" stroke="#4a5056" stroke-width="1.3" />
<line x1="1148.20" y1="2408.90" x2="1148.20" y2="2424.90" stroke="#000" stroke-width="3.6" />
<text x="0" y="0" transform="translate(1158.40 2432.00) rotate(-90)" font-size="33.00" text-anchor="end" fill="#000" stroke="#000" >A<tspan font-size="22.44" dy="8.25">x2</tspan></text>
<rect x="1172.50" y="2392.34" width="24.80" height="16.56" fill="#e4695b" stroke="#4a5056" stroke-width="1.3" />
<line x1="1184.90" y1="2408.90" x2="1184.90" y2="2424.90" stroke="#000" stroke-width="3.6" />
<text x="0" y="0" transform="translate(1195.10 2432.00) rotate(-90)" font-size="33.00" text-anchor="end" fill="#000" stroke="#000" >|A<tspan font-size="22.44" dy="8.25">x1</tspan><tspan dy="-8.25">-A</tspan><tspan font-size="22.44" dy="8.25">x2</tspan><tspan dy="-8.25">|</tspan></text>
<rect x="1209.20" y="2406.85" width="24.80" height="2.05" fill="#e4695b" stroke="#4a5056" stroke-width="1.3" />
<line x1="1221.60" y1="2408.90" x2="1221.60" y2="2424.90" stroke="#000" stroke-width="3.6" />
<text x="0" y="0" transform="translate(1231.80 2432.00) rotate(-90)" font-size="33.00" text-anchor="end" fill="#000" stroke="#000" >|A<tspan font-size="22.44" dy="8.25" dx="-0.6">y1</tspan><tspan dy="-8.25">-A</tspan><tspan font-size="22.44" dy="8.25" dx="-0.6">y2</tspan><tspan dy="-8.25">|</tspan></text>
<line x1="204.50" y1="1978.00" x2="204.50" y2="2411.10" stroke="#000" stroke-width="4.4" />
<line x1="187.60" y1="2408.90" x2="1248.50" y2="2408.90" stroke="#000" stroke-width="4.4" />
<line x1="187.50" y1="1980.00" x2="204.50" y2="1980.00" stroke="#000" stroke-width="4" />
<text x="182.30" y="1992.10" font-size="31.80" text-anchor="end" fill="#000" stroke="#000" >0.3</text>
<line x1="187.50" y1="2123.10" x2="204.50" y2="2123.10" stroke="#000" stroke-width="4" />
<text x="182.30" y="2135.20" font-size="31.80" text-anchor="end" fill="#000" stroke="#000" >0.2</text>
<line x1="187.50" y1="2266.20" x2="204.50" y2="2266.20" stroke="#000" stroke-width="4" />
<text x="182.30" y="2278.30" font-size="31.80" text-anchor="end" fill="#000" stroke="#000" >0.1</text>
<text x="182.30" y="2421.40" font-size="31.80" text-anchor="end" fill="#000" stroke="#000" >0.0</text>
<text x="0" y="0" transform="translate(120.60 2191.00) rotate(-90)" font-size="32.60" text-anchor="middle" fill="#000" stroke="#000" >Feature importance socre</text>
<text x="445.30" y="1996.00" font-size="31.10" text-anchor="start" fill="#df6b5f" stroke="#df6b5f" >3D features</text>
<text x="708.30" y="1996.00" font-size="31.10" text-anchor="start" fill="#5b92b8" stroke="#5b92b8" >2D features</text>
<text x="2.20" y="1960.20" font-size="47.50" text-anchor="start" fill="#000" stroke="#000" >d</text>
<line x1="1373.10" y1="1993.60" x2="2102.80" y2="1993.60" stroke="#000" stroke-width="3.6" />
<line x1="1373.10" y1="2492.30" x2="2102.80" y2="2492.30" stroke="#000" stroke-width="3.6" />
<line x1="1844.00" y1="1993.60" x2="1844.00" y2="2492.30" stroke="#000" stroke-width="3.6" />
<text x="1728.70" y="1971.20" font-size="31.70" text-anchor="middle" fill="#000" stroke="#000" >y<tspan font-size="20.92" dy="7.45">pre</tspan><tspan dy="-7.45"> = c</tspan><tspan font-size="20.92" dy="7.45">1</tspan><tspan dy="-7.45">D</tspan><tspan font-size="20.92" dy="7.45">1</tspan><tspan dy="-7.45">+c</tspan><tspan font-size="20.92" dy="7.45">2</tspan><tspan dy="-7.45">D</tspan><tspan font-size="20.92" dy="7.45">2</tspan><tspan dy="-7.45">+c</tspan><tspan font-size="20.92" dy="7.45">3</tspan><tspan dy="-7.45">D</tspan><tspan font-size="20.92" dy="7.45">3</tspan><tspan dy="-7.45">+c</tspan><tspan font-size="20.92" dy="7.45">4</tspan><tspan dy="-7.45">D</tspan><tspan font-size="20.92" dy="7.45">4</tspan><tspan dy="-7.45">+c</tspan><tspan font-size="20.92" dy="7.45">5</tspan><tspan dy="-7.45">D</tspan><tspan font-size="20.92" dy="7.45">5</tspan><tspan dy="-7.45">+c</tspan><tspan font-size="20.92" dy="7.45">0</tspan></text>
<text x="1884.80" y="2047.80" font-size="31.10" text-anchor="start" fill="#000" stroke="#000" >c<tspan font-size="20.53" dy="7.31">0</tspan></text>
<text x="2026.70" y="2047.80" font-size="31.10" text-anchor="middle" fill="#000" stroke="#000" >5.30</text>
<text x="1413.00" y="2131.50" font-size="31.10" text-anchor="start" fill="#000" stroke="#000" >D<tspan font-size="20.53" dy="7.31">1</tspan></text>
<text x="1665.80" y="2131.50" font-size="31.10" text-anchor="middle" fill="#000" stroke="#000" >N<tspan font-size="20.53" dy="7.31">O</tspan><tspan dy="-7.31">/R</tspan><tspan font-size="20.53" dy="7.31">yi</tspan><tspan font-size="20.53" dy="-17.42">3</tspan></text>
<text x="1884.80" y="2131.50" font-size="31.10" text-anchor="start" fill="#000" stroke="#000" >c<tspan font-size="20.53" dy="7.31">1</tspan></text>
<text x="2026.70" y="2131.50" font-size="31.10" text-anchor="middle" fill="#000" stroke="#000" >-0.12</text>
<text x="1413.00" y="2214.60" font-size="31.10" text-anchor="start" fill="#000" stroke="#000" >D<tspan font-size="20.53" dy="7.31">2</tspan></text>
<text x="1665.80" y="2214.60" font-size="31.10" text-anchor="middle" fill="#000" stroke="#000" >|A<tspan font-size="20.53" dy="7.31" dx="-0.6">y1</tspan><tspan dy="-7.31">-A</tspan><tspan font-size="20.53" dy="7.31" dx="-0.6">y2</tspan><tspan dy="-7.31">|/|L-W</tspan><tspan font-size="20.53" dy="7.31">yi</tspan><tspan dy="-7.31">|</tspan></text>
<text x="1884.80" y="2214.60" font-size="31.10" text-anchor="start" fill="#000" stroke="#000" >c<tspan font-size="20.53" dy="7.31">2</tspan></text>
<text x="2026.70" y="2214.60" font-size="31.10" text-anchor="middle" fill="#000" stroke="#000" >-1.52</text>
<text x="1413.00" y="2297.20" font-size="31.10" text-anchor="start" fill="#000" stroke="#000" >D<tspan font-size="20.53" dy="7.31">3</tspan></text>
<text x="1665.80" y="2297.20" font-size="31.10" text-anchor="middle" fill="#000" stroke="#000" >N<tspan font-size="20.53" dy="7.31">O</tspan><tspan dy="-7.31"><tspan dx="2.3" letter-spacing="2.3">×</tspan>A</tspan><tspan font-size="20.53" dy="7.31">x2</tspan><tspan dy="-7.31"><tspan dx="2.3" letter-spacing="2.3">×</tspan>|A</tspan><tspan font-size="20.53" dy="7.31" dx="-0.6">yi1</tspan><tspan dy="-7.31">-A</tspan><tspan font-size="20.53" dy="7.31" dx="-0.6">yi2</tspan><tspan dy="-7.31">|</tspan></text>
<text x="1884.80" y="2297.20" font-size="31.10" text-anchor="start" fill="#000" stroke="#000" >c<tspan font-size="20.53" dy="7.31">3</tspan></text>
<text x="2026.70" y="2297.20" font-size="31.10" text-anchor="middle" fill="#000" stroke="#000" >0.22</text>
<text x="1413.00" y="2380.30" font-size="31.10" text-anchor="start" fill="#000" stroke="#000" >D<tspan font-size="20.53" dy="7.31">4</tspan></text>
<text x="1665.80" y="2380.30" font-size="31.10" text-anchor="middle" fill="#000" stroke="#000" >|A<tspan font-size="20.53" dy="7.31" dx="-0.6">y2</tspan><tspan dy="-7.31">-(A</tspan><tspan font-size="20.53" dy="7.31">xi1</tspan><tspan dy="-7.31">-A</tspan><tspan font-size="20.53" dy="7.31">xi2</tspan><tspan dy="-7.31">)|</tspan></text>
<text x="1884.80" y="2380.30" font-size="31.10" text-anchor="start" fill="#000" stroke="#000" >c<tspan font-size="20.53" dy="7.31">4</tspan></text>
<text x="2026.70" y="2380.30" font-size="31.10" text-anchor="middle" fill="#000" stroke="#000" >1.36</text>
<text x="1413.00" y="2464.00" font-size="31.10" text-anchor="start" fill="#000" stroke="#000" >D<tspan font-size="20.53" dy="7.31">5</tspan></text>
<text x="1665.80" y="2464.00" font-size="31.10" text-anchor="middle" fill="#000" stroke="#000" >N<tspan font-size="20.53" dy="7.31">head</tspan><tspan dy="-7.31"><tspan dx="2.3" letter-spacing="2.3">×</tspan>A</tspan><tspan font-size="20.53" dy="7.31">x2</tspan><tspan dy="-7.31"><tspan dx="2.3" letter-spacing="2.3">×</tspan>|A</tspan><tspan font-size="20.53" dy="7.31">x1</tspan><tspan dy="-7.31">-A</tspan><tspan font-size="20.53" dy="7.31">x2</tspan><tspan dy="-7.31">|</tspan></text>
<text x="1884.80" y="2464.00" font-size="31.10" text-anchor="start" fill="#000" stroke="#000" >c<tspan font-size="20.53" dy="7.31">5</tspan></text>
<text x="2026.70" y="2464.00" font-size="31.10" text-anchor="middle" fill="#000" stroke="#000" >-0.52</text>
<text x="1303.50" y="1959.00" font-size="47.50" text-anchor="start" fill="#000" stroke="#000" >e</text>
</svg>
</body></html>
